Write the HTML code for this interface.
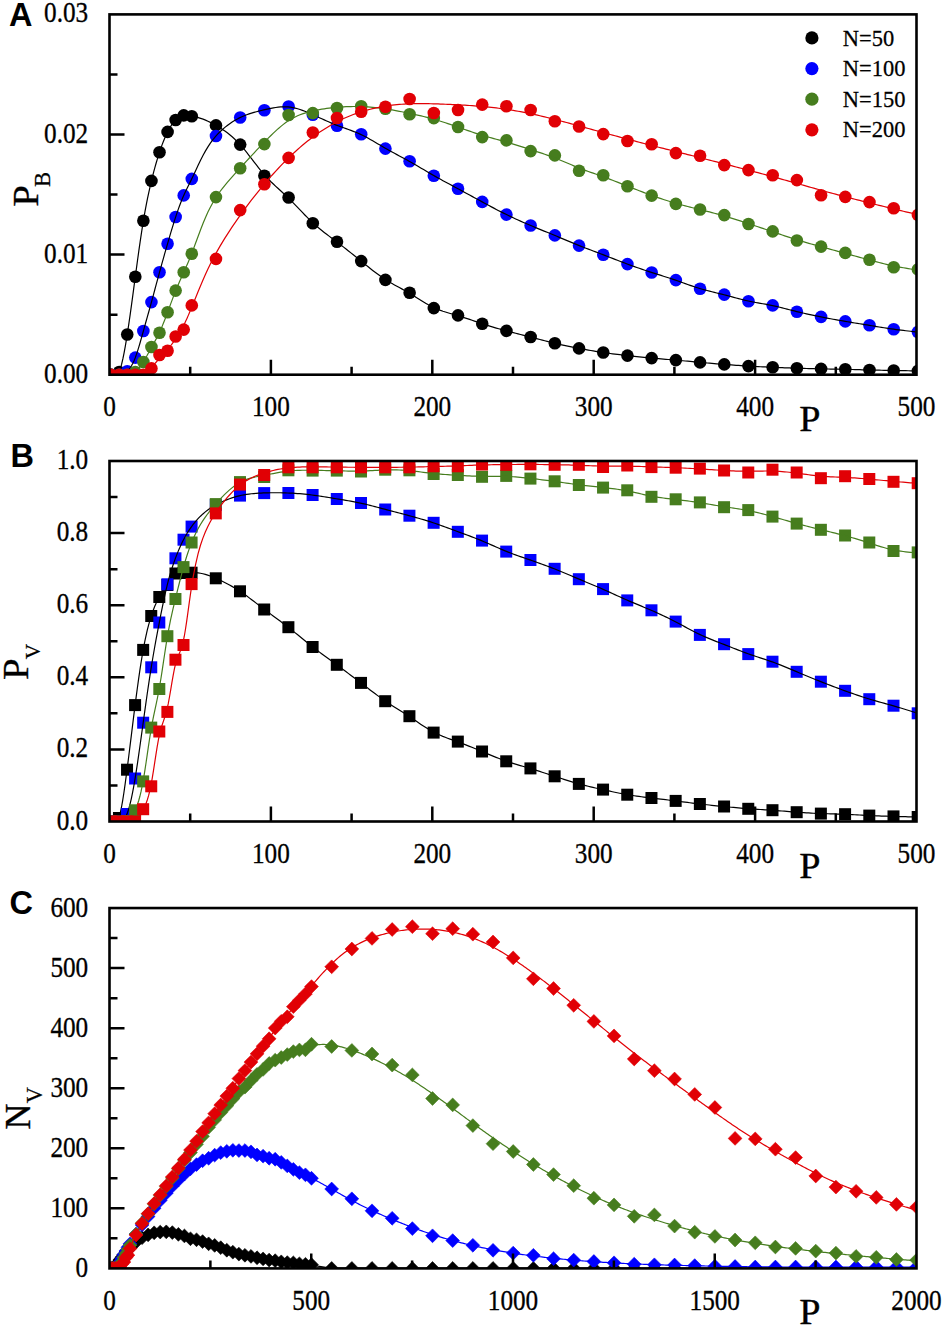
<!DOCTYPE html>
<html><head><meta charset="utf-8"><style>
html,body{margin:0;padding:0;background:#fff;overflow:hidden;}
svg{display:block;}
.t{font-family:"Liberation Serif",serif;font-size:26px;fill:#000;stroke:#000;stroke-width:0.3px;}
.ax{font-family:"Liberation Serif",serif;font-size:36px;fill:#000;stroke:#000;stroke-width:0.35px;}
.sub{font-family:"Liberation Serif",serif;font-size:22.5px;fill:#000;stroke:#000;stroke-width:0.25px;}
.lg{font-family:"Liberation Serif",serif;font-size:22.5px;fill:#000;stroke:#000;stroke-width:0.25px;}
.pl{font-family:"Liberation Sans",sans-serif;font-size:32.5px;font-weight:bold;fill:#000;}
</style></head><body>
<svg width="945" height="1328" viewBox="0 0 945 1328">
<defs>
<clipPath id="cA"><rect x="109.5" y="14.4" width="807" height="360.3"/></clipPath>
<clipPath id="cB"><rect x="109.5" y="461.0" width="807" height="360.5"/></clipPath>
<clipPath id="cC"><rect x="109.5" y="908.05" width="807" height="360.35"/></clipPath>
</defs>
<rect width="945" height="1328" fill="#fff"/>
<g clip-path="url(#cA)">
<circle cx="111.1" cy="374.7" r="6.3" fill="#000000"/>
<circle cx="119.17" cy="372" r="6.3" fill="#000000"/>
<circle cx="127.24" cy="334.5" r="6.3" fill="#000000"/>
<circle cx="135.3" cy="276.7" r="6.3" fill="#000000"/>
<circle cx="143.37" cy="220.8" r="6.3" fill="#000000"/>
<circle cx="151.44" cy="180.9" r="6.3" fill="#000000"/>
<circle cx="159.51" cy="152.2" r="6.3" fill="#000000"/>
<circle cx="167.58" cy="131.9" r="6.3" fill="#000000"/>
<circle cx="175.64" cy="120" r="6.3" fill="#000000"/>
<circle cx="183.71" cy="115.4" r="6.3" fill="#000000"/>
<circle cx="191.78" cy="116.2" r="6.3" fill="#000000"/>
<circle cx="215.98" cy="125.4" r="6.3" fill="#000000"/>
<circle cx="240.19" cy="144.6" r="6.3" fill="#000000"/>
<circle cx="264.39" cy="175.7" r="6.3" fill="#000000"/>
<circle cx="288.6" cy="197.5" r="6.3" fill="#000000"/>
<circle cx="312.8" cy="223.3" r="6.3" fill="#000000"/>
<circle cx="337" cy="241.8" r="6.3" fill="#000000"/>
<circle cx="361.21" cy="261.1" r="6.3" fill="#000000"/>
<circle cx="385.41" cy="279.9" r="6.3" fill="#000000"/>
<circle cx="409.62" cy="292.8" r="6.3" fill="#000000"/>
<circle cx="433.82" cy="308.1" r="6.3" fill="#000000"/>
<circle cx="458.02" cy="315.4" r="6.3" fill="#000000"/>
<circle cx="482.23" cy="323.8" r="6.3" fill="#000000"/>
<circle cx="506.43" cy="330.9" r="6.3" fill="#000000"/>
<circle cx="530.64" cy="337" r="6.3" fill="#000000"/>
<circle cx="554.84" cy="343.3" r="6.3" fill="#000000"/>
<circle cx="579.04" cy="348.4" r="6.3" fill="#000000"/>
<circle cx="603.25" cy="352.5" r="6.3" fill="#000000"/>
<circle cx="627.45" cy="355.6" r="6.3" fill="#000000"/>
<circle cx="651.66" cy="358.1" r="6.3" fill="#000000"/>
<circle cx="675.86" cy="360.1" r="6.3" fill="#000000"/>
<circle cx="700.06" cy="362.4" r="6.3" fill="#000000"/>
<circle cx="724.27" cy="364.4" r="6.3" fill="#000000"/>
<circle cx="748.47" cy="366.1" r="6.3" fill="#000000"/>
<circle cx="772.68" cy="367.3" r="6.3" fill="#000000"/>
<circle cx="796.88" cy="368.2" r="6.3" fill="#000000"/>
<circle cx="821.08" cy="368.9" r="6.3" fill="#000000"/>
<circle cx="845.29" cy="369.3" r="6.3" fill="#000000"/>
<circle cx="869.49" cy="370" r="6.3" fill="#000000"/>
<circle cx="893.7" cy="370.5" r="6.3" fill="#000000"/>
<circle cx="917.9" cy="370.9" r="6.3" fill="#000000"/>
<polyline points="119.17,371.89 120.4,368.54 121.63,364.19 122.86,358.95 124.09,352.91 125.32,346.17 126.55,338.82 127.78,330.96 129.01,322.68 130.24,314.06 131.48,305.17 132.71,296.1 133.94,286.93 135.17,277.73 136.4,268.58 137.63,259.54 138.86,250.69 140.09,242.09 141.32,233.8 142.55,225.88 143.78,218.4 145.01,211.39 146.24,204.81 147.47,198.63 148.71,192.79 149.94,187.27 151.17,182.02 152.4,177.01 153.63,172.22 154.86,167.64 156.09,163.28 157.32,159.12 158.55,155.15 159.78,151.37 161.01,147.78 162.24,144.38 163.47,141.17 164.7,138.16 165.94,135.34 167.17,132.73 168.4,130.32 169.63,128.11 170.86,126.09 172.09,124.27 173.32,122.62 174.55,121.16 175.78,119.86 177.01,118.73 178.24,117.77 179.47,116.97 180.7,116.33 181.93,115.84 183.17,115.51 184.4,115.33 185.63,115.28 186.86,115.34 188.09,115.49 189.32,115.69 190.55,115.93 191.78,116.18 193.39,116.51 195.82,117.03 198.24,117.63 200.66,118.33 203.09,119.16 205.51,120.12 207.93,121.19 210.36,122.36 212.78,123.62 215.2,124.95 217.62,126.35 220.05,127.83 222.47,129.39 224.89,131.06 227.32,132.84 229.74,134.74 232.16,136.78 234.59,138.97 237.01,141.32 239.43,143.84 241.86,146.55 244.28,149.42 246.7,152.42 249.12,155.51 251.55,158.65 253.97,161.81 256.39,164.96 258.82,168.05 261.24,171.06 263.66,173.94 266.09,176.67 268.51,179.25 270.93,181.7 273.36,184.05 275.78,186.32 278.2,188.55 280.63,190.76 283.05,192.96 285.47,195.2 287.89,197.5 290.32,199.87 292.74,202.31 295.16,204.81 297.59,207.35 300.01,209.9 302.43,212.44 304.86,214.96 307.28,217.44 309.7,219.85 312.13,222.18 314.55,224.4 316.97,226.52 319.39,228.56 321.82,230.53 324.24,232.43 326.66,234.29 329.09,236.12 331.51,237.93 333.93,239.73 336.36,241.55 338.78,243.38 341.2,245.24 343.63,247.12 346.05,249.02 348.47,250.93 350.89,252.86 353.32,254.81 355.74,256.76 358.16,258.72 360.59,260.69 363.01,262.66 365.43,264.63 367.86,266.58 370.28,268.52 372.7,270.42 375.13,272.28 377.55,274.1 379.97,275.86 382.4,277.55 384.82,279.17 387.24,280.71 389.66,282.17 392.09,283.57 394.51,284.93 396.93,286.26 399.36,287.57 401.78,288.88 404.2,290.2 406.63,291.55 409.05,292.94 411.47,294.39 413.9,295.88 416.32,297.4 418.74,298.93 421.16,300.46 423.59,301.96 426.01,303.42 428.43,304.81 430.86,306.13 433.28,307.36 435.7,308.47 438.13,309.48 440.55,310.4 442.97,311.24 445.4,312.02 447.82,312.76 450.24,313.46 452.67,314.15 455.09,314.84 457.51,315.55 459.93,316.28 462.36,317.04 464.78,317.82 467.2,318.63 469.63,319.44 472.05,320.27 474.47,321.1 476.9,321.93 479.32,322.75 481.74,323.56 484.17,324.35 486.59,325.12 489.01,325.88 491.43,326.62 493.86,327.35 496.28,328.06 498.7,328.75 501.13,329.43 503.55,330.1 505.97,330.76 508.4,331.4 510.82,332.03 513.24,332.66 515.67,333.28 518.09,333.89 520.51,334.5 522.93,335.11 525.36,335.72 527.78,336.33 530.2,336.95 532.63,337.57 535.05,338.2 537.47,338.84 539.9,339.47 542.32,340.1 544.74,340.73 547.17,341.35 549.59,341.97 552.01,342.57 554.44,343.16 556.86,343.74 559.28,344.3 561.7,344.85 564.13,345.38 566.55,345.91 568.97,346.41 571.4,346.91 573.82,347.4 576.24,347.87 578.67,348.34 581.09,348.79 583.51,349.24 585.94,349.67 588.36,350.1 590.78,350.52 593.2,350.92 595.63,351.32 598.05,351.7 600.47,352.08 602.9,352.44 605.32,352.79 607.74,353.13 610.17,353.47 612.59,353.79 615.01,354.11 617.44,354.41 619.86,354.71 622.28,355.01 624.71,355.29 627.13,355.57 629.55,355.85 631.97,356.12 634.4,356.38 636.82,356.64 639.24,356.89 641.67,357.13 644.09,357.37 646.51,357.61 648.94,357.83 651.36,358.05 653.78,358.27 656.21,358.48 658.63,358.68 661.05,358.89 663.47,359.09 665.9,359.29 668.32,359.49 670.74,359.69 673.17,359.9 675.59,360.11 678.01,360.32 680.44,360.54 682.86,360.77 685.28,361 687.71,361.22 690.13,361.45 692.55,361.68 694.97,361.91 697.4,362.14 699.82,362.36 702.24,362.58 704.67,362.8 707.09,363.01 709.51,363.21 711.94,363.42 714.36,363.62 716.78,363.82 719.21,364.01 721.63,364.2 724.05,364.39 726.48,364.58 728.9,364.76 731.32,364.94 733.74,365.11 736.17,365.29 738.59,365.46 741.01,365.62 743.44,365.78 745.86,365.93 748.28,366.08 750.71,366.22 753.13,366.36 755.55,366.49 757.98,366.62 760.4,366.74 762.82,366.86 765.24,366.97 767.67,367.08 770.09,367.19 772.51,367.3 774.94,367.4 777.36,367.5 779.78,367.59 782.21,367.69 784.63,367.78 787.05,367.87 789.48,367.95 791.9,368.04 794.32,368.12 796.75,368.2 799.17,368.28 801.59,368.36 804.01,368.43 806.44,368.51 808.86,368.58 811.28,368.64 813.71,368.71 816.13,368.77 818.55,368.83 820.98,368.88 823.4,368.93 825.82,368.97 828.25,369.02 830.67,369.06 833.09,369.1 835.51,369.14 837.94,369.18 840.36,369.23 842.78,369.28 845.21,369.33 847.63,369.38 850.05,369.44 852.48,369.51 854.9,369.58 857.32,369.64 859.75,369.71 862.17,369.78 864.59,369.85 867.01,369.92 869.44,369.98 871.86,370.04 874.28,370.1 876.71,370.16 879.13,370.21 881.55,370.27 883.98,370.32 886.4,370.36 888.82,370.41 891.25,370.46 893.67,370.5 896.09,370.54 898.52,370.59 900.94,370.63 903.36,370.67 905.78,370.71 908.21,370.75 910.63,370.79 913.05,370.83 915.48,370.86 917.9,370.9" fill="none" stroke="#000" stroke-width="1.2"/>
<circle cx="111.1" cy="374.7" r="6.3" fill="#0000ff"/>
<circle cx="119.17" cy="374.7" r="6.3" fill="#0000ff"/>
<circle cx="127.24" cy="371.3" r="6.3" fill="#0000ff"/>
<circle cx="135.3" cy="357.6" r="6.3" fill="#0000ff"/>
<circle cx="143.37" cy="331" r="6.3" fill="#0000ff"/>
<circle cx="151.44" cy="302.1" r="6.3" fill="#0000ff"/>
<circle cx="159.51" cy="272.3" r="6.3" fill="#0000ff"/>
<circle cx="167.58" cy="243.7" r="6.3" fill="#0000ff"/>
<circle cx="175.64" cy="217" r="6.3" fill="#0000ff"/>
<circle cx="183.71" cy="195.4" r="6.3" fill="#0000ff"/>
<circle cx="191.78" cy="178.9" r="6.3" fill="#0000ff"/>
<circle cx="215.98" cy="136" r="6.3" fill="#0000ff"/>
<circle cx="240.19" cy="117.5" r="6.3" fill="#0000ff"/>
<circle cx="264.39" cy="110.2" r="6.3" fill="#0000ff"/>
<circle cx="288.6" cy="106.5" r="6.3" fill="#0000ff"/>
<circle cx="312.8" cy="114.8" r="6.3" fill="#0000ff"/>
<circle cx="337" cy="125.7" r="6.3" fill="#0000ff"/>
<circle cx="361.21" cy="134.2" r="6.3" fill="#0000ff"/>
<circle cx="385.41" cy="148.6" r="6.3" fill="#0000ff"/>
<circle cx="409.62" cy="161.3" r="6.3" fill="#0000ff"/>
<circle cx="433.82" cy="175.7" r="6.3" fill="#0000ff"/>
<circle cx="458.02" cy="188.7" r="6.3" fill="#0000ff"/>
<circle cx="482.23" cy="201.9" r="6.3" fill="#0000ff"/>
<circle cx="506.43" cy="214.6" r="6.3" fill="#0000ff"/>
<circle cx="530.64" cy="225.5" r="6.3" fill="#0000ff"/>
<circle cx="554.84" cy="235.4" r="6.3" fill="#0000ff"/>
<circle cx="579.04" cy="245.6" r="6.3" fill="#0000ff"/>
<circle cx="603.25" cy="254.7" r="6.3" fill="#0000ff"/>
<circle cx="627.45" cy="264.1" r="6.3" fill="#0000ff"/>
<circle cx="651.66" cy="272.5" r="6.3" fill="#0000ff"/>
<circle cx="675.86" cy="280.1" r="6.3" fill="#0000ff"/>
<circle cx="700.06" cy="288.8" r="6.3" fill="#0000ff"/>
<circle cx="724.27" cy="294.6" r="6.3" fill="#0000ff"/>
<circle cx="748.47" cy="301.3" r="6.3" fill="#0000ff"/>
<circle cx="772.68" cy="305.4" r="6.3" fill="#0000ff"/>
<circle cx="796.88" cy="311.7" r="6.3" fill="#0000ff"/>
<circle cx="821.08" cy="316.9" r="6.3" fill="#0000ff"/>
<circle cx="845.29" cy="321.4" r="6.3" fill="#0000ff"/>
<circle cx="869.49" cy="325.3" r="6.3" fill="#0000ff"/>
<circle cx="893.7" cy="329.3" r="6.3" fill="#0000ff"/>
<circle cx="917.9" cy="332" r="6.3" fill="#0000ff"/>
<polyline points="119.17,374.71 120.4,374.55 121.63,374.31 122.86,373.95 124.09,373.44 125.32,372.77 126.55,371.88 127.78,370.77 129.01,369.4 130.24,367.75 131.48,365.79 132.71,363.52 133.94,360.9 135.17,357.91 136.4,354.55 137.63,350.85 138.86,346.88 140.09,342.71 141.32,338.39 142.55,333.98 143.78,329.57 145.01,325.16 146.24,320.77 147.47,316.38 148.71,311.97 149.94,307.55 151.17,303.08 152.4,298.58 153.63,294.04 154.86,289.48 156.09,284.92 157.32,280.35 158.55,275.82 159.78,271.31 161.01,266.85 162.24,262.43 163.47,258.06 164.7,253.71 165.94,249.4 167.17,245.11 168.4,240.85 169.63,236.63 170.86,232.45 172.09,228.35 173.32,224.32 174.55,220.4 175.78,216.59 177.01,212.91 178.24,209.36 179.47,205.96 180.7,202.71 181.93,199.62 183.17,196.68 184.4,193.91 185.63,191.28 186.86,188.76 188.09,186.29 189.32,183.84 190.55,181.37 191.78,178.86 193.39,175.48 195.82,170.28 198.24,165.1 200.66,160.07 203.09,155.32 205.51,150.91 207.93,146.87 210.36,143.21 212.78,139.9 215.2,136.91 217.62,134.2 220.05,131.73 222.47,129.48 224.89,127.4 227.32,125.49 229.74,123.71 232.16,122.08 234.59,120.56 237.01,119.17 239.43,117.9 241.86,116.75 244.28,115.7 246.7,114.76 249.12,113.9 251.55,113.12 253.97,112.4 256.39,111.73 258.82,111.1 261.24,110.51 263.66,109.94 266.09,109.38 268.51,108.85 270.93,108.34 273.36,107.88 275.78,107.49 278.2,107.17 280.63,106.93 283.05,106.81 285.47,106.8 287.89,106.92 290.32,107.19 292.74,107.6 295.16,108.14 297.59,108.79 300.01,109.55 302.43,110.39 304.86,111.31 307.28,112.29 309.7,113.32 312.13,114.38 314.55,115.47 316.97,116.57 319.39,117.68 321.82,118.79 324.24,119.89 326.66,120.98 329.09,122.06 331.51,123.1 333.93,124.12 336.36,125.1 338.78,126.03 341.2,126.93 343.63,127.8 346.05,128.66 348.47,129.53 350.89,130.41 353.32,131.32 355.74,132.27 358.16,133.28 360.59,134.36 363.01,135.52 365.43,136.75 367.86,138.05 370.28,139.4 372.7,140.79 375.13,142.21 377.55,143.65 379.97,145.09 382.4,146.52 384.82,147.94 387.24,149.32 389.66,150.68 392.09,152.01 394.51,153.32 396.93,154.62 399.36,155.92 401.78,157.22 404.2,158.52 406.63,159.84 409.05,161.18 411.47,162.54 413.9,163.92 416.32,165.33 418.74,166.74 421.16,168.17 423.59,169.6 426.01,171.03 428.43,172.45 430.86,173.86 433.28,175.26 435.7,176.64 438.13,177.99 440.55,179.33 442.97,180.66 445.4,181.98 447.82,183.29 450.24,184.59 452.67,185.89 455.09,187.19 457.51,188.49 459.93,189.79 462.36,191.1 464.78,192.42 467.2,193.74 469.63,195.06 472.05,196.38 474.47,197.7 476.9,199.02 479.32,200.34 481.74,201.65 484.17,202.96 486.59,204.27 489.01,205.57 491.43,206.86 493.86,208.14 496.28,209.41 498.7,210.67 501.13,211.9 503.55,213.12 505.97,214.32 508.4,215.5 510.82,216.66 513.24,217.8 515.67,218.92 518.09,220.02 520.51,221.11 522.93,222.18 525.36,223.23 527.78,224.27 530.2,225.3 532.63,226.32 535.05,227.34 537.47,228.34 539.9,229.34 542.32,230.33 544.74,231.32 547.17,232.31 549.59,233.31 552.01,234.3 554.44,235.31 556.86,236.31 559.28,237.33 561.7,238.35 564.13,239.36 566.55,240.38 568.97,241.4 571.4,242.4 573.82,243.4 576.24,244.39 578.67,245.37 581.09,246.33 583.51,247.28 585.94,248.21 588.36,249.14 590.78,250.06 593.2,250.98 595.63,251.89 598.05,252.8 600.47,253.72 602.9,254.64 605.32,255.57 607.74,256.5 610.17,257.44 612.59,258.38 615.01,259.32 617.44,260.26 619.86,261.19 622.28,262.12 624.71,263.03 627.13,263.94 629.55,264.83 631.97,265.72 634.4,266.59 636.82,267.45 639.24,268.29 641.67,269.13 644.09,269.95 646.51,270.76 648.94,271.56 651.36,272.35 653.78,273.13 656.21,273.9 658.63,274.67 661.05,275.44 663.47,276.21 665.9,276.98 668.32,277.76 670.74,278.55 673.17,279.35 675.59,280.17 678.01,281.01 680.44,281.87 682.86,282.73 685.28,283.6 687.71,284.46 690.13,285.32 692.55,286.15 694.97,286.97 697.4,287.75 699.82,288.51 702.24,289.22 704.67,289.89 707.09,290.54 709.51,291.17 711.94,291.77 714.36,292.37 716.78,292.96 719.21,293.55 721.63,294.15 724.05,294.76 726.48,295.39 728.9,296.04 731.32,296.69 733.74,297.35 736.17,298 738.59,298.65 741.01,299.28 743.44,299.88 745.86,300.47 748.28,301.02 750.71,301.53 753.13,302.01 755.55,302.47 757.98,302.91 760.4,303.34 762.82,303.76 765.24,304.2 767.67,304.64 770.09,305.11 772.51,305.6 774.94,306.12 777.36,306.67 779.78,307.25 782.21,307.85 784.63,308.46 787.05,309.08 789.48,309.71 791.9,310.33 794.32,310.95 796.75,311.56 799.17,312.15 801.59,312.72 804.01,313.29 806.44,313.84 808.86,314.37 811.28,314.9 813.71,315.41 816.13,315.91 818.55,316.41 820.98,316.89 823.4,317.37 825.82,317.84 828.25,318.31 830.67,318.77 833.09,319.22 835.51,319.66 837.94,320.1 840.36,320.53 842.78,320.95 845.21,321.37 847.63,321.78 850.05,322.18 852.48,322.58 854.9,322.98 857.32,323.38 859.75,323.77 862.17,324.17 864.59,324.56 867.01,324.96 869.44,325.36 871.86,325.76 874.28,326.17 876.71,326.57 879.13,326.97 881.55,327.37 883.98,327.76 886.4,328.14 888.82,328.51 891.25,328.87 893.67,329.21 896.09,329.54 898.52,329.86 900.94,330.16 903.36,330.45 905.78,330.73 908.21,331 910.63,331.27 913.05,331.53 915.48,331.78 917.9,332.04" fill="none" stroke="#000" stroke-width="1.2"/>
<circle cx="111.1" cy="374.7" r="6.3" fill="#467d1e"/>
<circle cx="119.17" cy="374.7" r="6.3" fill="#467d1e"/>
<circle cx="127.24" cy="374.7" r="6.3" fill="#467d1e"/>
<circle cx="135.3" cy="372" r="6.3" fill="#467d1e"/>
<circle cx="143.37" cy="362" r="6.3" fill="#467d1e"/>
<circle cx="151.44" cy="347" r="6.3" fill="#467d1e"/>
<circle cx="159.51" cy="332.8" r="6.3" fill="#467d1e"/>
<circle cx="167.58" cy="312.3" r="6.3" fill="#467d1e"/>
<circle cx="175.64" cy="290.6" r="6.3" fill="#467d1e"/>
<circle cx="183.71" cy="272.3" r="6.3" fill="#467d1e"/>
<circle cx="191.78" cy="253.8" r="6.3" fill="#467d1e"/>
<circle cx="215.98" cy="197.1" r="6.3" fill="#467d1e"/>
<circle cx="240.19" cy="168.2" r="6.3" fill="#467d1e"/>
<circle cx="264.39" cy="144.1" r="6.3" fill="#467d1e"/>
<circle cx="288.6" cy="115" r="6.3" fill="#467d1e"/>
<circle cx="312.8" cy="113.1" r="6.3" fill="#467d1e"/>
<circle cx="337" cy="108" r="6.3" fill="#467d1e"/>
<circle cx="361.21" cy="106.2" r="6.3" fill="#467d1e"/>
<circle cx="385.41" cy="108.7" r="6.3" fill="#467d1e"/>
<circle cx="409.62" cy="114.3" r="6.3" fill="#467d1e"/>
<circle cx="433.82" cy="118.1" r="6.3" fill="#467d1e"/>
<circle cx="458.02" cy="127" r="6.3" fill="#467d1e"/>
<circle cx="482.23" cy="137.1" r="6.3" fill="#467d1e"/>
<circle cx="506.43" cy="140.4" r="6.3" fill="#467d1e"/>
<circle cx="530.64" cy="151.1" r="6.3" fill="#467d1e"/>
<circle cx="554.84" cy="155.4" r="6.3" fill="#467d1e"/>
<circle cx="579.04" cy="170.7" r="6.3" fill="#467d1e"/>
<circle cx="603.25" cy="175.2" r="6.3" fill="#467d1e"/>
<circle cx="627.45" cy="186.2" r="6.3" fill="#467d1e"/>
<circle cx="651.66" cy="195.6" r="6.3" fill="#467d1e"/>
<circle cx="675.86" cy="203.9" r="6.3" fill="#467d1e"/>
<circle cx="700.06" cy="209.5" r="6.3" fill="#467d1e"/>
<circle cx="724.27" cy="215.1" r="6.3" fill="#467d1e"/>
<circle cx="748.47" cy="224" r="6.3" fill="#467d1e"/>
<circle cx="772.68" cy="231.4" r="6.3" fill="#467d1e"/>
<circle cx="796.88" cy="240.5" r="6.3" fill="#467d1e"/>
<circle cx="821.08" cy="246.6" r="6.3" fill="#467d1e"/>
<circle cx="845.29" cy="252.9" r="6.3" fill="#467d1e"/>
<circle cx="869.49" cy="259.7" r="6.3" fill="#467d1e"/>
<circle cx="893.7" cy="267.2" r="6.3" fill="#467d1e"/>
<circle cx="917.9" cy="269.4" r="6.3" fill="#467d1e"/>
<polyline points="119.17,374.78 120.4,374.82 121.63,374.86 122.86,374.9 124.09,374.91 125.32,374.89 126.55,374.83 127.78,374.71 129.01,374.53 130.24,374.27 131.48,373.89 132.71,373.38 133.94,372.72 135.17,371.89 136.4,370.87 137.63,369.66 138.86,368.28 140.09,366.73 141.32,365.03 142.55,363.19 143.78,361.22 145.01,359.13 146.24,356.95 147.47,354.72 148.71,352.45 149.94,350.18 151.17,347.93 152.4,345.72 153.63,343.55 154.86,341.36 156.09,339.13 157.32,336.82 158.55,334.39 159.78,331.81 161.01,329.05 162.24,326.14 163.47,323.1 164.7,319.95 165.94,316.71 167.17,313.42 168.4,310.09 169.63,306.74 170.86,303.4 172.09,300.09 173.32,296.83 174.55,293.65 175.78,290.55 177.01,287.56 178.24,284.66 179.47,281.83 180.7,279.06 181.93,276.31 183.17,273.58 184.4,270.85 185.63,268.11 186.86,265.32 188.09,262.47 189.32,259.54 190.55,256.52 191.78,253.4 193.39,249.15 195.82,242.56 198.24,235.92 200.66,229.44 203.09,223.24 205.51,217.44 207.93,212.09 210.36,207.19 212.78,202.73 215.2,198.66 217.62,194.94 220.05,191.51 222.47,188.3 224.89,185.26 227.32,182.35 229.74,179.53 232.16,176.79 234.59,174.09 237.01,171.43 239.43,168.78 241.86,166.15 244.28,163.51 246.7,160.88 249.12,158.26 251.55,155.64 253.97,153.04 256.39,150.45 258.82,147.88 261.24,145.33 263.66,142.8 266.09,140.31 268.51,137.85 270.93,135.45 273.36,133.1 275.78,130.84 278.2,128.67 280.63,126.59 283.05,124.64 285.47,122.81 287.89,121.12 290.32,119.58 292.74,118.19 295.16,116.94 297.59,115.82 300.01,114.81 302.43,113.91 304.86,113.1 307.28,112.37 309.7,111.71 312.13,111.12 314.55,110.57 316.97,110.06 319.39,109.6 321.82,109.18 324.24,108.8 326.66,108.45 329.09,108.13 331.51,107.85 333.93,107.6 336.36,107.37 338.78,107.17 341.2,106.99 343.63,106.84 346.05,106.72 348.47,106.62 350.89,106.56 353.32,106.52 355.74,106.51 358.16,106.53 360.59,106.59 363.01,106.68 365.43,106.79 367.86,106.95 370.28,107.13 372.7,107.34 375.13,107.57 377.55,107.84 379.97,108.13 382.4,108.45 384.82,108.79 387.24,109.16 389.66,109.55 392.09,109.96 394.51,110.39 396.93,110.83 399.36,111.3 401.78,111.77 404.2,112.26 406.63,112.76 409.05,113.27 411.47,113.78 413.9,114.3 416.32,114.84 418.74,115.39 421.16,115.95 423.59,116.53 426.01,117.13 428.43,117.75 430.86,118.39 433.28,119.06 435.7,119.76 438.13,120.48 440.55,121.23 442.97,122 445.4,122.79 447.82,123.6 450.24,124.42 452.67,125.25 455.09,126.09 457.51,126.94 459.93,127.79 462.36,128.64 464.78,129.49 467.2,130.34 469.63,131.17 472.05,132 474.47,132.81 476.9,133.61 479.32,134.38 481.74,135.13 484.17,135.86 486.59,136.56 489.01,137.25 491.43,137.92 493.86,138.58 496.28,139.24 498.7,139.9 501.13,140.56 503.55,141.23 505.97,141.92 508.4,142.62 510.82,143.35 513.24,144.08 515.67,144.84 518.09,145.6 520.51,146.37 522.93,147.15 525.36,147.93 527.78,148.71 530.2,149.49 532.63,150.27 535.05,151.05 537.47,151.84 539.9,152.63 542.32,153.43 544.74,154.25 547.17,155.09 549.59,155.95 552.01,156.84 554.44,157.75 556.86,158.71 559.28,159.69 561.7,160.69 564.13,161.72 566.55,162.75 568.97,163.78 571.4,164.81 573.82,165.83 576.24,166.84 578.67,167.81 581.09,168.76 583.51,169.68 585.94,170.58 588.36,171.46 590.78,172.33 593.2,173.19 595.63,174.05 598.05,174.9 600.47,175.76 602.9,176.64 605.32,177.53 607.74,178.43 610.17,179.35 612.59,180.28 615.01,181.21 617.44,182.16 619.86,183.11 622.28,184.07 624.71,185.02 627.13,185.98 629.55,186.94 631.97,187.9 634.4,188.85 636.82,189.79 639.24,190.73 641.67,191.66 644.09,192.58 646.51,193.49 648.94,194.39 651.36,195.28 653.78,196.14 656.21,197 658.63,197.83 661.05,198.65 663.47,199.46 665.9,200.24 668.32,201.01 670.74,201.76 673.17,202.48 675.59,203.19 678.01,203.88 680.44,204.55 682.86,205.21 685.28,205.85 687.71,206.48 690.13,207.1 692.55,207.71 694.97,208.31 697.4,208.92 699.82,209.52 702.24,210.12 704.67,210.72 707.09,211.33 709.51,211.95 711.94,212.57 714.36,213.21 716.78,213.85 719.21,214.51 721.63,215.19 724.05,215.88 726.48,216.59 728.9,217.31 731.32,218.06 733.74,218.81 736.17,219.58 738.59,220.36 741.01,221.15 743.44,221.95 745.86,222.75 748.28,223.56 750.71,224.37 753.13,225.18 755.55,225.99 757.98,226.8 760.4,227.62 762.82,228.44 765.24,229.26 767.67,230.08 770.09,230.9 772.51,231.72 774.94,232.55 777.36,233.37 779.78,234.19 782.21,235.01 784.63,235.82 787.05,236.62 789.48,237.42 791.9,238.2 794.32,238.98 796.75,239.74 799.17,240.48 801.59,241.21 804.01,241.93 806.44,242.64 808.86,243.34 811.28,244.02 813.71,244.7 816.13,245.38 818.55,246.05 820.98,246.71 823.4,247.37 825.82,248.03 828.25,248.69 830.67,249.35 833.09,250.01 835.51,250.66 837.94,251.32 840.36,251.98 842.78,252.65 845.21,253.31 847.63,253.98 850.05,254.65 852.48,255.32 854.9,256 857.32,256.67 859.75,257.34 862.17,258.01 864.59,258.67 867.01,259.34 869.44,259.99 871.86,260.64 874.28,261.28 876.71,261.92 879.13,262.54 881.55,263.14 883.98,263.74 886.4,264.31 888.82,264.87 891.25,265.4 893.67,265.91 896.09,266.4 898.52,266.87 900.94,267.32 903.36,267.75 905.78,268.17 908.21,268.58 910.63,268.97 913.05,269.36 915.48,269.74 917.9,270.12" fill="none" stroke="#467d1e" stroke-width="1.2"/>
<circle cx="111.1" cy="374.7" r="6.3" fill="#e10005"/>
<circle cx="119.17" cy="374.7" r="6.3" fill="#e10005"/>
<circle cx="127.24" cy="374.7" r="6.3" fill="#e10005"/>
<circle cx="135.3" cy="374.7" r="6.3" fill="#e10005"/>
<circle cx="143.37" cy="374.7" r="6.3" fill="#e10005"/>
<circle cx="151.44" cy="368.4" r="6.3" fill="#e10005"/>
<circle cx="159.51" cy="355" r="6.3" fill="#e10005"/>
<circle cx="167.58" cy="350.7" r="6.3" fill="#e10005"/>
<circle cx="175.64" cy="336.5" r="6.3" fill="#e10005"/>
<circle cx="183.71" cy="329.6" r="6.3" fill="#e10005"/>
<circle cx="191.78" cy="305.4" r="6.3" fill="#e10005"/>
<circle cx="215.98" cy="258.9" r="6.3" fill="#e10005"/>
<circle cx="240.19" cy="210.1" r="6.3" fill="#e10005"/>
<circle cx="264.39" cy="184.3" r="6.3" fill="#e10005"/>
<circle cx="288.6" cy="157.9" r="6.3" fill="#e10005"/>
<circle cx="312.8" cy="132.5" r="6.3" fill="#e10005"/>
<circle cx="337" cy="118" r="6.3" fill="#e10005"/>
<circle cx="361.21" cy="111.8" r="6.3" fill="#e10005"/>
<circle cx="385.41" cy="106.7" r="6.3" fill="#e10005"/>
<circle cx="409.62" cy="99" r="6.3" fill="#e10005"/>
<circle cx="433.82" cy="113" r="6.3" fill="#e10005"/>
<circle cx="458.02" cy="110" r="6.3" fill="#e10005"/>
<circle cx="482.23" cy="104.6" r="6.3" fill="#e10005"/>
<circle cx="506.43" cy="106.2" r="6.3" fill="#e10005"/>
<circle cx="530.64" cy="110" r="6.3" fill="#e10005"/>
<circle cx="554.84" cy="121.2" r="6.3" fill="#e10005"/>
<circle cx="579.04" cy="126.5" r="6.3" fill="#e10005"/>
<circle cx="603.25" cy="134.1" r="6.3" fill="#e10005"/>
<circle cx="627.45" cy="141" r="6.3" fill="#e10005"/>
<circle cx="651.66" cy="144.3" r="6.3" fill="#e10005"/>
<circle cx="675.86" cy="153.1" r="6.3" fill="#e10005"/>
<circle cx="700.06" cy="155.7" r="6.3" fill="#e10005"/>
<circle cx="724.27" cy="165.1" r="6.3" fill="#e10005"/>
<circle cx="748.47" cy="170.1" r="6.3" fill="#e10005"/>
<circle cx="772.68" cy="175.3" r="6.3" fill="#e10005"/>
<circle cx="796.88" cy="180.1" r="6.3" fill="#e10005"/>
<circle cx="821.08" cy="195.3" r="6.3" fill="#e10005"/>
<circle cx="845.29" cy="196.9" r="6.3" fill="#e10005"/>
<circle cx="869.49" cy="202.1" r="6.3" fill="#e10005"/>
<circle cx="893.7" cy="208.2" r="6.3" fill="#e10005"/>
<circle cx="917.9" cy="214.9" r="6.3" fill="#e10005"/>
<polyline points="119.17,375.01 120.4,375.07 121.63,375.12 122.86,375.18 124.09,375.23 125.32,375.27 126.55,375.31 127.78,375.34 129.01,375.36 130.24,375.36 131.48,375.34 132.71,375.29 133.94,375.21 135.17,375.09 136.4,374.93 137.63,374.71 138.86,374.44 140.09,374.09 141.32,373.68 142.55,373.18 143.78,372.59 145.01,371.91 146.24,371.14 147.47,370.28 148.71,369.34 149.94,368.33 151.17,367.23 152.4,366.07 153.63,364.85 154.86,363.58 156.09,362.27 157.32,360.94 158.55,359.6 159.78,358.26 161.01,356.92 162.24,355.58 163.47,354.24 164.7,352.87 165.94,351.48 167.17,350.06 168.4,348.58 169.63,347.07 170.86,345.5 172.09,343.88 173.32,342.21 174.55,340.48 175.78,338.7 177.01,336.86 178.24,334.95 179.47,332.95 180.7,330.86 181.93,328.66 183.17,326.34 184.4,323.9 185.63,321.33 186.86,318.65 188.09,315.88 189.32,313.03 190.55,310.12 191.78,307.16 193.39,303.24 195.82,297.29 198.24,291.35 200.66,285.49 203.09,279.78 205.51,274.28 207.93,269.02 210.36,264.02 212.78,259.25 215.2,254.71 217.62,250.35 220.05,246.16 222.47,242.11 224.89,238.18 227.32,234.35 229.74,230.61 232.16,226.94 234.59,223.35 237.01,219.82 239.43,216.35 241.86,212.96 244.28,209.62 246.7,206.34 249.12,203.12 251.55,199.96 253.97,196.84 256.39,193.78 258.82,190.77 261.24,187.81 263.66,184.9 266.09,182.03 268.51,179.22 270.93,176.46 273.36,173.75 275.78,171.09 278.2,168.48 280.63,165.93 283.05,163.42 285.47,160.97 287.89,158.57 290.32,156.22 292.74,153.93 295.16,151.69 297.59,149.5 300.01,147.37 302.43,145.3 304.86,143.28 307.28,141.31 309.7,139.41 312.13,137.56 314.55,135.76 316.97,134.02 319.39,132.34 321.82,130.72 324.24,129.15 326.66,127.64 329.09,126.18 331.51,124.78 333.93,123.43 336.36,122.14 338.78,120.9 341.2,119.71 343.63,118.57 346.05,117.49 348.47,116.45 350.89,115.47 353.32,114.53 355.74,113.64 358.16,112.79 360.59,111.99 363.01,111.24 365.43,110.52 367.86,109.85 370.28,109.22 372.7,108.63 375.13,108.07 377.55,107.56 379.97,107.08 382.4,106.64 384.82,106.23 387.24,105.86 389.66,105.51 392.09,105.21 394.51,104.93 396.93,104.68 399.36,104.46 401.78,104.27 404.2,104.11 406.63,103.97 409.05,103.86 411.47,103.77 413.9,103.71 416.32,103.67 418.74,103.65 421.16,103.64 423.59,103.65 426.01,103.68 428.43,103.72 430.86,103.77 433.28,103.83 435.7,103.9 438.13,103.97 440.55,104.05 442.97,104.14 445.4,104.23 447.82,104.33 450.24,104.44 452.67,104.55 455.09,104.67 457.51,104.8 459.93,104.93 462.36,105.06 464.78,105.2 467.2,105.35 469.63,105.51 472.05,105.68 474.47,105.85 476.9,106.04 479.32,106.24 481.74,106.45 484.17,106.67 486.59,106.9 489.01,107.15 491.43,107.41 493.86,107.68 496.28,107.97 498.7,108.27 501.13,108.59 503.55,108.92 505.97,109.27 508.4,109.63 510.82,110.01 513.24,110.41 515.67,110.82 518.09,111.25 520.51,111.69 522.93,112.15 525.36,112.63 527.78,113.11 530.2,113.62 532.63,114.14 535.05,114.67 537.47,115.21 539.9,115.77 542.32,116.34 544.74,116.92 547.17,117.51 549.59,118.11 552.01,118.72 554.44,119.33 556.86,119.96 559.28,120.59 561.7,121.22 564.13,121.86 566.55,122.51 568.97,123.16 571.4,123.81 573.82,124.47 576.24,125.13 578.67,125.79 581.09,126.46 583.51,127.13 585.94,127.8 588.36,128.47 590.78,129.14 593.2,129.81 595.63,130.48 598.05,131.15 600.47,131.81 602.9,132.48 605.32,133.15 607.74,133.81 610.17,134.47 612.59,135.13 615.01,135.79 617.44,136.44 619.86,137.1 622.28,137.75 624.71,138.39 627.13,139.04 629.55,139.68 631.97,140.32 634.4,140.95 636.82,141.59 639.24,142.22 641.67,142.85 644.09,143.47 646.51,144.1 648.94,144.72 651.36,145.35 653.78,145.97 656.21,146.59 658.63,147.21 661.05,147.83 663.47,148.44 665.9,149.06 668.32,149.67 670.74,150.29 673.17,150.9 675.59,151.51 678.01,152.13 680.44,152.74 682.86,153.35 685.28,153.95 687.71,154.56 690.13,155.17 692.55,155.78 694.97,156.39 697.4,157.01 699.82,157.62 702.24,158.23 704.67,158.85 707.09,159.47 709.51,160.09 711.94,160.71 714.36,161.33 716.78,161.95 719.21,162.57 721.63,163.19 724.05,163.82 726.48,164.44 728.9,165.07 731.32,165.7 733.74,166.33 736.17,166.96 738.59,167.59 741.01,168.22 743.44,168.85 745.86,169.49 748.28,170.13 750.71,170.76 753.13,171.41 755.55,172.05 757.98,172.7 760.4,173.34 762.82,173.99 765.24,174.65 767.67,175.3 770.09,175.96 772.51,176.62 774.94,177.29 777.36,177.95 779.78,178.62 782.21,179.3 784.63,179.97 787.05,180.65 789.48,181.33 791.9,182.01 794.32,182.69 796.75,183.38 799.17,184.06 801.59,184.75 804.01,185.44 806.44,186.13 808.86,186.81 811.28,187.5 813.71,188.18 816.13,188.86 818.55,189.54 820.98,190.21 823.4,190.88 825.82,191.55 828.25,192.21 830.67,192.86 833.09,193.51 835.51,194.16 837.94,194.81 840.36,195.45 842.78,196.08 845.21,196.72 847.63,197.35 850.05,197.97 852.48,198.6 854.9,199.22 857.32,199.84 859.75,200.45 862.17,201.07 864.59,201.68 867.01,202.29 869.44,202.89 871.86,203.5 874.28,204.1 876.71,204.71 879.13,205.31 881.55,205.9 883.98,206.5 886.4,207.1 888.82,207.69 891.25,208.28 893.67,208.87 896.09,209.46 898.52,210.05 900.94,210.63 903.36,211.22 905.78,211.8 908.21,212.38 910.63,212.95 913.05,213.53 915.48,214.1 917.9,214.67" fill="none" stroke="#e10005" stroke-width="1.2"/>
</g>
<g clip-path="url(#cB)">
<rect x="104.9" y="815.5" width="12.0" height="12.0" fill="#000000"/>
<rect x="112.97" y="812" width="12.0" height="12.0" fill="#000000"/>
<rect x="121.04" y="763.7" width="12.0" height="12.0" fill="#000000"/>
<rect x="129.1" y="699.1" width="12.0" height="12.0" fill="#000000"/>
<rect x="137.17" y="643.9" width="12.0" height="12.0" fill="#000000"/>
<rect x="145.24" y="610" width="12.0" height="12.0" fill="#000000"/>
<rect x="153.31" y="591" width="12.0" height="12.0" fill="#000000"/>
<rect x="161.38" y="579" width="12.0" height="12.0" fill="#000000"/>
<rect x="169.44" y="567.5" width="12.0" height="12.0" fill="#000000"/>
<rect x="177.51" y="567" width="12.0" height="12.0" fill="#000000"/>
<rect x="185.58" y="566.7" width="12.0" height="12.0" fill="#000000"/>
<rect x="209.78" y="572.3" width="12.0" height="12.0" fill="#000000"/>
<rect x="233.99" y="585.3" width="12.0" height="12.0" fill="#000000"/>
<rect x="258.19" y="603.5" width="12.0" height="12.0" fill="#000000"/>
<rect x="282.4" y="621.2" width="12.0" height="12.0" fill="#000000"/>
<rect x="306.6" y="641" width="12.0" height="12.0" fill="#000000"/>
<rect x="330.8" y="658.8" width="12.0" height="12.0" fill="#000000"/>
<rect x="355.01" y="676.9" width="12.0" height="12.0" fill="#000000"/>
<rect x="379.21" y="695.2" width="12.0" height="12.0" fill="#000000"/>
<rect x="403.42" y="710.2" width="12.0" height="12.0" fill="#000000"/>
<rect x="427.62" y="726.6" width="12.0" height="12.0" fill="#000000"/>
<rect x="451.82" y="735.6" width="12.0" height="12.0" fill="#000000"/>
<rect x="476.03" y="745.5" width="12.0" height="12.0" fill="#000000"/>
<rect x="500.23" y="755.3" width="12.0" height="12.0" fill="#000000"/>
<rect x="524.44" y="762.4" width="12.0" height="12.0" fill="#000000"/>
<rect x="548.64" y="770.3" width="12.0" height="12.0" fill="#000000"/>
<rect x="572.84" y="777.9" width="12.0" height="12.0" fill="#000000"/>
<rect x="597.05" y="783.6" width="12.0" height="12.0" fill="#000000"/>
<rect x="621.25" y="788.7" width="12.0" height="12.0" fill="#000000"/>
<rect x="645.46" y="792" width="12.0" height="12.0" fill="#000000"/>
<rect x="669.66" y="794.9" width="12.0" height="12.0" fill="#000000"/>
<rect x="693.86" y="798" width="12.0" height="12.0" fill="#000000"/>
<rect x="718.07" y="800.5" width="12.0" height="12.0" fill="#000000"/>
<rect x="742.27" y="802.8" width="12.0" height="12.0" fill="#000000"/>
<rect x="766.48" y="804.2" width="12.0" height="12.0" fill="#000000"/>
<rect x="790.68" y="806.2" width="12.0" height="12.0" fill="#000000"/>
<rect x="814.88" y="807.6" width="12.0" height="12.0" fill="#000000"/>
<rect x="839.09" y="808.2" width="12.0" height="12.0" fill="#000000"/>
<rect x="863.29" y="809.6" width="12.0" height="12.0" fill="#000000"/>
<rect x="887.5" y="810.4" width="12.0" height="12.0" fill="#000000"/>
<rect x="911.7" y="811" width="12.0" height="12.0" fill="#000000"/>
<polyline points="118.97,817.8 120.2,813.28 121.43,807.48 122.66,800.56 123.89,792.72 125.12,784.14 126.35,775 127.58,765.49 128.81,755.73 130.04,745.82 131.28,735.83 132.51,725.84 133.74,715.93 134.97,706.18 136.2,696.67 137.43,687.46 138.66,678.6 139.89,670.14 141.12,662.13 142.35,654.64 143.58,647.7 144.81,641.34 146.04,635.53 147.27,630.21 148.51,625.35 149.74,620.91 150.97,616.85 152.2,613.12 153.43,609.7 154.66,606.57 155.89,603.71 157.12,601.1 158.35,598.72 159.58,596.55 160.81,594.56 162.04,592.69 163.27,590.91 164.5,589.17 165.74,587.4 166.97,585.56 168.2,583.62 169.43,581.6 170.66,579.6 171.89,577.7 173.12,576 174.35,574.56 175.58,573.49 176.81,572.82 178.04,572.49 179.27,572.41 180.5,572.51 181.73,572.69 182.97,572.88 184.2,573 185.43,573.04 186.66,573.02 187.89,572.96 189.12,572.87 190.35,572.78 191.58,572.71 193.19,572.66 195.62,572.7 198.04,572.9 200.46,573.26 202.89,573.78 205.31,574.42 207.73,575.19 210.16,576.04 212.58,576.97 215,577.97 217.42,579.02 219.85,580.12 222.27,581.27 224.69,582.47 227.12,583.72 229.54,585.02 231.96,586.38 234.39,587.8 236.81,589.28 239.23,590.82 241.66,592.43 244.08,594.11 246.5,595.84 248.92,597.61 251.35,599.42 253.77,601.25 256.19,603.11 258.62,604.97 261.04,606.83 263.46,608.68 265.89,610.52 268.31,612.33 270.73,614.14 273.16,615.93 275.58,617.73 278,619.52 280.43,621.33 282.85,623.15 285.27,624.99 287.69,626.86 290.12,628.75 292.54,630.68 294.96,632.62 297.39,634.58 299.81,636.55 302.23,638.52 304.66,640.48 307.08,642.44 309.5,644.38 311.93,646.29 314.35,648.18 316.77,650.05 319.19,651.88 321.62,653.7 324.04,655.5 326.46,657.29 328.89,659.07 331.31,660.84 333.73,662.62 336.16,664.39 338.58,666.17 341,667.96 343.43,669.75 345.85,671.56 348.27,673.37 350.69,675.18 353.12,677.01 355.54,678.84 357.96,680.68 360.39,682.52 362.81,684.37 365.23,686.23 367.66,688.08 370.08,689.93 372.5,691.76 374.93,693.58 377.35,695.37 379.77,697.13 382.2,698.86 384.62,700.55 387.04,702.2 389.46,703.81 391.89,705.38 394.31,706.94 396.73,708.47 399.16,710 401.58,711.53 404,713.07 406.43,714.63 408.85,716.21 411.27,717.83 413.7,719.47 416.12,721.12 418.54,722.77 420.96,724.41 423.39,726.01 425.81,727.57 428.23,729.07 430.66,730.5 433.08,731.84 435.5,733.09 437.93,734.25 440.35,735.32 442.77,736.33 445.2,737.28 447.62,738.2 450.04,739.08 452.47,739.94 454.89,740.81 457.31,741.68 459.73,742.57 462.16,743.48 464.58,744.41 467,745.36 469.43,746.33 471.85,747.31 474.27,748.3 476.7,749.31 479.12,750.32 481.54,751.33 483.97,752.35 486.39,753.36 488.81,754.37 491.23,755.37 493.66,756.36 496.08,757.34 498.5,758.29 500.93,759.21 503.35,760.11 505.77,760.97 508.2,761.8 510.62,762.6 513.04,763.36 515.47,764.11 517.89,764.84 520.31,765.55 522.73,766.26 525.16,766.97 527.58,767.68 530,768.4 532.43,769.13 534.85,769.88 537.27,770.64 539.7,771.41 542.12,772.2 544.54,772.98 546.97,773.78 549.39,774.58 551.81,775.37 554.24,776.17 556.66,776.97 559.08,777.77 561.5,778.55 563.93,779.33 566.35,780.1 568.77,780.86 571.2,781.6 573.62,782.33 576.04,783.03 578.47,783.72 580.89,784.38 583.31,785.02 585.74,785.64 588.16,786.24 590.58,786.82 593,787.4 595.43,787.96 597.85,788.51 600.27,789.06 602.7,789.6 605.12,790.14 607.54,790.67 609.97,791.2 612.39,791.72 614.81,792.23 617.24,792.73 619.66,793.22 622.08,793.69 624.51,794.14 626.93,794.57 629.35,794.98 631.77,795.37 634.2,795.74 636.62,796.1 639.04,796.44 641.47,796.77 643.89,797.08 646.31,797.39 648.74,797.69 651.16,797.99 653.58,798.28 656.01,798.57 658.43,798.86 660.85,799.15 663.27,799.43 665.7,799.72 668.12,800.01 670.54,800.31 672.97,800.6 675.39,800.9 677.81,801.2 680.24,801.51 682.66,801.82 685.08,802.13 687.51,802.44 689.93,802.75 692.35,803.05 694.77,803.35 697.2,803.65 699.62,803.94 702.04,804.22 704.47,804.49 706.89,804.76 709.31,805.02 711.74,805.28 714.16,805.53 716.58,805.78 719.01,806.03 721.43,806.27 723.85,806.51 726.28,806.76 728.7,807 731.12,807.23 733.54,807.47 735.97,807.7 738.39,807.92 740.81,808.13 743.24,808.34 745.66,808.54 748.08,808.72 750.51,808.9 752.93,809.06 755.35,809.21 757.78,809.36 760.2,809.51 762.62,809.65 765.04,809.8 767.47,809.95 769.89,810.1 772.31,810.26 774.74,810.44 777.16,810.62 779.58,810.81 782.01,811 784.43,811.2 786.85,811.39 789.28,811.59 791.7,811.79 794.12,811.98 796.55,812.16 798.97,812.34 801.39,812.51 803.81,812.67 806.24,812.82 808.66,812.97 811.08,813.1 813.51,813.23 815.93,813.34 818.35,813.45 820.78,813.54 823.2,813.63 825.62,813.7 828.05,813.77 830.47,813.84 832.89,813.9 835.31,813.97 837.74,814.04 840.16,814.11 842.58,814.19 845.01,814.29 847.43,814.39 849.85,814.51 852.28,814.63 854.7,814.76 857.12,814.89 859.55,815.02 861.97,815.16 864.39,815.29 866.81,815.42 869.24,815.54 871.66,815.65 874.08,815.76 876.51,815.86 878.93,815.95 881.35,816.04 883.78,816.12 886.2,816.2 888.62,816.27 891.05,816.34 893.47,816.41 895.89,816.47 898.32,816.54 900.74,816.6 903.16,816.66 905.58,816.72 908.01,816.78 910.43,816.84 912.85,816.89 915.28,816.95 917.7,817" fill="none" stroke="#000" stroke-width="1.2"/>
<rect x="104.9" y="815.5" width="12.0" height="12.0" fill="#0000ff"/>
<rect x="112.97" y="815.5" width="12.0" height="12.0" fill="#0000ff"/>
<rect x="121.04" y="808" width="12.0" height="12.0" fill="#0000ff"/>
<rect x="129.1" y="772.5" width="12.0" height="12.0" fill="#0000ff"/>
<rect x="137.17" y="716.7" width="12.0" height="12.0" fill="#0000ff"/>
<rect x="145.24" y="661.3" width="12.0" height="12.0" fill="#0000ff"/>
<rect x="153.31" y="616.5" width="12.0" height="12.0" fill="#0000ff"/>
<rect x="161.38" y="578.3" width="12.0" height="12.0" fill="#0000ff"/>
<rect x="169.44" y="552.3" width="12.0" height="12.0" fill="#0000ff"/>
<rect x="177.51" y="533.7" width="12.0" height="12.0" fill="#0000ff"/>
<rect x="185.58" y="520.6" width="12.0" height="12.0" fill="#0000ff"/>
<rect x="209.78" y="499" width="12.0" height="12.0" fill="#0000ff"/>
<rect x="233.99" y="489.6" width="12.0" height="12.0" fill="#0000ff"/>
<rect x="258.19" y="487.1" width="12.0" height="12.0" fill="#0000ff"/>
<rect x="282.4" y="487" width="12.0" height="12.0" fill="#0000ff"/>
<rect x="306.6" y="489" width="12.0" height="12.0" fill="#0000ff"/>
<rect x="330.8" y="493" width="12.0" height="12.0" fill="#0000ff"/>
<rect x="355.01" y="497" width="12.0" height="12.0" fill="#0000ff"/>
<rect x="379.21" y="503.5" width="12.0" height="12.0" fill="#0000ff"/>
<rect x="403.42" y="509.7" width="12.0" height="12.0" fill="#0000ff"/>
<rect x="427.62" y="516.8" width="12.0" height="12.0" fill="#0000ff"/>
<rect x="451.82" y="525.8" width="12.0" height="12.0" fill="#0000ff"/>
<rect x="476.03" y="534.6" width="12.0" height="12.0" fill="#0000ff"/>
<rect x="500.23" y="545.6" width="12.0" height="12.0" fill="#0000ff"/>
<rect x="524.44" y="554" width="12.0" height="12.0" fill="#0000ff"/>
<rect x="548.64" y="562.8" width="12.0" height="12.0" fill="#0000ff"/>
<rect x="572.84" y="573.2" width="12.0" height="12.0" fill="#0000ff"/>
<rect x="597.05" y="583.1" width="12.0" height="12.0" fill="#0000ff"/>
<rect x="621.25" y="594.4" width="12.0" height="12.0" fill="#0000ff"/>
<rect x="645.46" y="604.3" width="12.0" height="12.0" fill="#0000ff"/>
<rect x="669.66" y="615.6" width="12.0" height="12.0" fill="#0000ff"/>
<rect x="693.86" y="628.9" width="12.0" height="12.0" fill="#0000ff"/>
<rect x="718.07" y="638.2" width="12.0" height="12.0" fill="#0000ff"/>
<rect x="742.27" y="648.1" width="12.0" height="12.0" fill="#0000ff"/>
<rect x="766.48" y="655.7" width="12.0" height="12.0" fill="#0000ff"/>
<rect x="790.68" y="665.8" width="12.0" height="12.0" fill="#0000ff"/>
<rect x="814.88" y="675.7" width="12.0" height="12.0" fill="#0000ff"/>
<rect x="839.09" y="684.8" width="12.0" height="12.0" fill="#0000ff"/>
<rect x="863.29" y="693.2" width="12.0" height="12.0" fill="#0000ff"/>
<rect x="887.5" y="699.7" width="12.0" height="12.0" fill="#0000ff"/>
<rect x="911.7" y="707.3" width="12.0" height="12.0" fill="#0000ff"/>
<polyline points="118.97,821.59 120.2,821.4 121.43,821.03 122.66,820.36 123.89,819.28 125.12,817.68 126.35,815.43 127.58,812.43 128.81,808.64 130.04,804.09 131.28,798.84 132.51,792.92 133.74,786.39 134.97,779.29 136.2,771.67 137.43,763.6 138.66,755.19 139.89,746.51 141.12,737.65 142.35,728.71 143.58,719.76 144.81,710.89 146.04,702.13 147.27,693.53 148.51,685.12 149.74,676.96 150.97,669.08 152.2,661.51 153.43,654.25 154.66,647.25 155.89,640.46 157.12,633.86 158.35,627.39 159.58,621.02 160.81,614.73 162.04,608.56 163.27,602.56 164.5,596.78 165.74,591.25 166.97,586.03 168.2,581.16 169.43,576.63 170.66,572.41 171.89,568.47 173.12,564.76 174.35,561.25 175.58,557.91 176.81,554.71 178.04,551.64 179.27,548.72 180.5,545.94 181.73,543.29 182.97,540.78 184.2,538.41 185.43,536.17 186.66,534.05 187.89,532.05 189.12,530.14 190.35,528.32 191.58,526.59 193.19,524.43 195.62,521.43 198.04,518.68 200.46,516.19 202.89,513.93 205.31,511.89 207.73,510.04 210.16,508.36 212.58,506.83 215,505.41 217.42,504.1 219.85,502.88 222.27,501.73 224.69,500.67 227.12,499.68 229.54,498.77 231.96,497.92 234.39,497.14 236.81,496.44 239.23,495.81 241.66,495.27 244.08,494.8 246.5,494.39 248.92,494.05 251.35,493.77 253.77,493.53 256.19,493.34 258.62,493.18 261.04,493.05 263.46,492.95 265.89,492.87 268.31,492.81 270.73,492.76 273.16,492.73 275.58,492.73 278,492.74 280.43,492.77 282.85,492.82 285.27,492.89 287.69,492.98 290.12,493.08 292.54,493.21 294.96,493.36 297.39,493.53 299.81,493.72 302.23,493.94 304.66,494.17 307.08,494.42 309.5,494.69 311.93,494.99 314.35,495.31 316.77,495.64 319.19,495.99 321.62,496.36 324.04,496.74 326.46,497.13 328.89,497.52 331.31,497.92 333.73,498.32 336.16,498.72 338.58,499.12 341,499.52 343.43,499.92 345.85,500.33 348.27,500.74 350.69,501.17 353.12,501.61 355.54,502.08 357.96,502.56 360.39,503.07 362.81,503.6 365.23,504.16 367.66,504.75 370.08,505.36 372.5,505.98 374.93,506.61 377.35,507.25 379.77,507.9 382.2,508.55 384.62,509.19 387.04,509.83 389.46,510.47 391.89,511.1 394.31,511.73 396.73,512.36 399.16,512.99 401.58,513.63 404,514.26 406.43,514.91 408.85,515.55 411.27,516.21 413.7,516.88 416.12,517.56 418.54,518.25 420.96,518.96 423.39,519.68 425.81,520.41 428.23,521.17 430.66,521.94 433.08,522.73 435.5,523.55 437.93,524.38 440.35,525.23 442.77,526.1 445.2,526.97 447.62,527.86 450.04,528.75 452.47,529.65 454.89,530.54 457.31,531.44 459.73,532.33 462.16,533.23 464.58,534.12 467,535.02 469.43,535.92 471.85,536.84 474.27,537.77 476.7,538.71 479.12,539.68 481.54,540.67 483.97,541.69 486.39,542.73 488.81,543.78 491.23,544.85 493.66,545.92 496.08,546.99 498.5,548.05 500.93,549.09 503.35,550.12 505.77,551.12 508.2,552.09 510.62,553.03 513.04,553.94 515.47,554.84 517.89,555.71 520.31,556.56 522.73,557.41 525.16,558.25 527.58,559.08 530,559.92 532.43,560.76 534.85,561.6 537.27,562.46 539.7,563.32 542.12,564.19 544.54,565.08 546.97,565.97 549.39,566.89 551.81,567.82 554.24,568.76 556.66,569.73 559.08,570.72 561.5,571.71 563.93,572.72 566.35,573.74 568.77,574.77 571.2,575.8 573.62,576.83 576.04,577.86 578.47,578.89 580.89,579.91 583.31,580.92 585.74,581.93 588.16,582.94 590.58,583.95 593,584.97 595.43,585.99 597.85,587.02 600.27,588.07 602.7,589.12 605.12,590.2 607.54,591.28 609.97,592.38 612.39,593.49 614.81,594.59 617.24,595.7 619.66,596.8 622.08,597.89 624.51,598.98 626.93,600.04 629.35,601.09 631.77,602.13 634.2,603.15 636.62,604.16 639.04,605.17 641.47,606.17 643.89,607.18 646.31,608.19 648.74,609.22 651.16,610.26 653.58,611.31 656.01,612.38 658.43,613.47 660.85,614.58 663.27,615.71 665.7,616.87 668.12,618.04 670.54,619.24 672.97,620.46 675.39,621.71 677.81,622.98 680.24,624.27 682.66,625.57 685.08,626.88 687.51,628.18 689.93,629.48 692.35,630.75 694.77,632 697.2,633.21 699.62,634.39 702.04,635.51 704.47,636.6 706.89,637.65 709.31,638.66 711.74,639.65 714.16,640.62 716.58,641.57 719.01,642.51 721.43,643.46 723.85,644.4 726.28,645.35 728.7,646.31 731.12,647.27 733.54,648.23 735.97,649.18 738.39,650.13 740.81,651.06 743.24,651.97 745.66,652.87 748.08,653.74 750.51,654.59 752.93,655.41 755.35,656.22 757.78,657.02 760.2,657.81 762.62,658.61 765.04,659.41 767.47,660.23 769.89,661.06 772.31,661.92 774.74,662.81 777.16,663.73 779.58,664.67 782.01,665.63 784.43,666.61 786.85,667.61 789.28,668.61 791.7,669.63 794.12,670.64 796.55,671.66 798.97,672.68 801.39,673.7 803.81,674.71 806.24,675.71 808.66,676.72 811.08,677.71 813.51,678.7 815.93,679.69 818.35,680.66 820.78,681.63 823.2,682.59 825.62,683.54 828.05,684.48 830.47,685.41 832.89,686.33 835.31,687.25 837.74,688.15 840.16,689.05 842.58,689.94 845.01,690.82 847.43,691.7 849.85,692.57 852.28,693.42 854.7,694.26 857.12,695.1 859.55,695.91 861.97,696.71 864.39,697.49 866.81,698.26 869.24,699 871.66,699.73 874.08,700.44 876.51,701.13 878.93,701.81 881.35,702.49 883.78,703.16 886.2,703.83 888.62,704.51 891.05,705.19 893.47,705.89 895.89,706.59 898.32,707.31 900.74,708.03 903.16,708.77 905.58,709.51 908.01,710.25 910.43,711 912.85,711.74 915.28,712.49 917.7,713.24" fill="none" stroke="#000" stroke-width="1.2"/>
<rect x="104.9" y="815.5" width="12.0" height="12.0" fill="#467d1e"/>
<rect x="112.97" y="815.5" width="12.0" height="12.0" fill="#467d1e"/>
<rect x="121.04" y="815" width="12.0" height="12.0" fill="#467d1e"/>
<rect x="129.1" y="804.3" width="12.0" height="12.0" fill="#467d1e"/>
<rect x="137.17" y="775.4" width="12.0" height="12.0" fill="#467d1e"/>
<rect x="145.24" y="721.6" width="12.0" height="12.0" fill="#467d1e"/>
<rect x="153.31" y="683" width="12.0" height="12.0" fill="#467d1e"/>
<rect x="161.38" y="630.2" width="12.0" height="12.0" fill="#467d1e"/>
<rect x="169.44" y="593" width="12.0" height="12.0" fill="#467d1e"/>
<rect x="177.51" y="561.1" width="12.0" height="12.0" fill="#467d1e"/>
<rect x="185.58" y="536.5" width="12.0" height="12.0" fill="#467d1e"/>
<rect x="209.78" y="498.1" width="12.0" height="12.0" fill="#467d1e"/>
<rect x="233.99" y="476.1" width="12.0" height="12.0" fill="#467d1e"/>
<rect x="258.19" y="471" width="12.0" height="12.0" fill="#467d1e"/>
<rect x="282.4" y="464.3" width="12.0" height="12.0" fill="#467d1e"/>
<rect x="306.6" y="464.6" width="12.0" height="12.0" fill="#467d1e"/>
<rect x="330.8" y="464.6" width="12.0" height="12.0" fill="#467d1e"/>
<rect x="355.01" y="465.5" width="12.0" height="12.0" fill="#467d1e"/>
<rect x="379.21" y="463.7" width="12.0" height="12.0" fill="#467d1e"/>
<rect x="403.42" y="464.3" width="12.0" height="12.0" fill="#467d1e"/>
<rect x="427.62" y="468" width="12.0" height="12.0" fill="#467d1e"/>
<rect x="451.82" y="469" width="12.0" height="12.0" fill="#467d1e"/>
<rect x="476.03" y="470.8" width="12.0" height="12.0" fill="#467d1e"/>
<rect x="500.23" y="469.9" width="12.0" height="12.0" fill="#467d1e"/>
<rect x="524.44" y="472.6" width="12.0" height="12.0" fill="#467d1e"/>
<rect x="548.64" y="475.3" width="12.0" height="12.0" fill="#467d1e"/>
<rect x="572.84" y="479" width="12.0" height="12.0" fill="#467d1e"/>
<rect x="597.05" y="481.6" width="12.0" height="12.0" fill="#467d1e"/>
<rect x="621.25" y="484.3" width="12.0" height="12.0" fill="#467d1e"/>
<rect x="645.46" y="490.8" width="12.0" height="12.0" fill="#467d1e"/>
<rect x="669.66" y="493.3" width="12.0" height="12.0" fill="#467d1e"/>
<rect x="693.86" y="496.4" width="12.0" height="12.0" fill="#467d1e"/>
<rect x="718.07" y="501.2" width="12.0" height="12.0" fill="#467d1e"/>
<rect x="742.27" y="504.1" width="12.0" height="12.0" fill="#467d1e"/>
<rect x="766.48" y="510.6" width="12.0" height="12.0" fill="#467d1e"/>
<rect x="790.68" y="517.6" width="12.0" height="12.0" fill="#467d1e"/>
<rect x="814.88" y="523.8" width="12.0" height="12.0" fill="#467d1e"/>
<rect x="839.09" y="529.5" width="12.0" height="12.0" fill="#467d1e"/>
<rect x="863.29" y="536.5" width="12.0" height="12.0" fill="#467d1e"/>
<rect x="887.5" y="545" width="12.0" height="12.0" fill="#467d1e"/>
<rect x="911.7" y="546.4" width="12.0" height="12.0" fill="#467d1e"/>
<polyline points="118.97,821.59 120.2,821.7 121.43,821.81 122.66,821.87 123.89,821.82 125.12,821.64 126.35,821.26 127.58,820.65 128.81,819.76 130.04,818.59 131.28,817.12 132.51,815.32 133.74,813.19 134.97,810.71 136.2,807.85 137.43,804.54 138.66,800.71 139.89,796.27 141.12,791.13 142.35,785.23 143.58,778.46 144.81,770.89 146.04,762.76 147.27,754.35 148.51,745.92 149.74,737.73 150.97,730.07 152.2,723.15 153.43,716.88 154.66,711.01 155.89,705.3 157.12,699.5 158.35,693.37 159.58,686.66 160.81,679.27 162.04,671.38 163.27,663.21 164.5,654.97 165.74,646.89 166.97,639.19 168.2,632.06 169.43,625.52 170.66,619.48 171.89,613.83 173.12,608.46 174.35,603.29 175.58,598.22 176.81,593.17 178.04,588.16 179.27,583.23 180.5,578.39 181.73,573.67 182.97,569.11 184.2,564.73 185.43,560.53 186.66,556.54 187.89,552.74 189.12,549.14 190.35,545.74 191.58,542.55 193.19,538.67 195.62,533.41 198.04,528.72 200.46,524.49 202.89,520.63 205.31,517.07 207.73,513.76 210.16,510.64 212.58,507.67 215,504.82 217.42,502.06 219.85,499.39 222.27,496.83 224.69,494.38 227.12,492.07 229.54,489.9 231.96,487.87 234.39,486 236.81,484.3 239.23,482.79 241.66,481.48 244.08,480.36 246.5,479.41 248.92,478.6 251.35,477.91 253.77,477.31 256.19,476.78 258.62,476.3 261.04,475.86 263.46,475.42 265.89,474.97 268.31,474.5 270.73,474.03 273.16,473.55 275.58,473.09 278,472.64 280.43,472.21 282.85,471.81 285.27,471.45 287.69,471.14 290.12,470.88 292.54,470.68 294.96,470.52 297.39,470.4 299.81,470.32 302.23,470.27 304.66,470.25 307.08,470.25 309.5,470.27 311.93,470.29 314.35,470.32 316.77,470.36 319.19,470.39 321.62,470.43 324.04,470.48 326.46,470.53 328.89,470.58 331.31,470.63 333.73,470.69 336.16,470.75 338.58,470.81 341,470.87 343.43,470.93 345.85,470.99 348.27,471.03 350.69,471.07 353.12,471.09 355.54,471.09 357.96,471.07 360.39,471.04 362.81,470.97 365.23,470.88 367.66,470.78 370.08,470.66 372.5,470.53 374.93,470.41 377.35,470.28 379.77,470.17 382.2,470.07 384.62,469.98 387.04,469.92 389.46,469.89 391.89,469.88 394.31,469.9 396.73,469.95 399.16,470.02 401.58,470.13 404,470.26 406.43,470.43 408.85,470.62 411.27,470.85 413.7,471.1 416.12,471.38 418.54,471.67 420.96,471.98 423.39,472.29 425.81,472.6 428.23,472.9 430.66,473.19 433.08,473.46 435.5,473.71 437.93,473.94 440.35,474.15 442.77,474.34 445.2,474.51 447.62,474.68 450.04,474.83 452.47,474.98 454.89,475.12 457.31,475.26 459.73,475.4 462.16,475.54 464.58,475.67 467,475.8 469.43,475.92 471.85,476.03 474.27,476.13 476.7,476.21 479.12,476.27 481.54,476.32 483.97,476.34 486.39,476.34 488.81,476.34 491.23,476.32 493.66,476.3 496.08,476.29 498.5,476.28 500.93,476.3 503.35,476.33 505.77,476.39 508.2,476.48 510.62,476.6 513.04,476.76 515.47,476.93 517.89,477.13 520.31,477.35 522.73,477.59 525.16,477.84 527.58,478.1 530,478.37 532.43,478.64 534.85,478.92 537.27,479.21 539.7,479.5 542.12,479.8 544.54,480.1 546.97,480.41 549.39,480.72 551.81,481.04 554.24,481.37 556.66,481.71 559.08,482.05 561.5,482.39 563.93,482.74 566.35,483.08 568.77,483.43 571.2,483.77 573.62,484.1 576.04,484.42 578.47,484.74 580.89,485.04 583.31,485.33 585.74,485.62 588.16,485.89 590.58,486.16 593,486.42 595.43,486.69 597.85,486.95 600.27,487.21 602.7,487.48 605.12,487.75 607.54,488.02 609.97,488.31 612.39,488.61 614.81,488.92 617.24,489.26 619.66,489.62 622.08,490 624.51,490.41 626.93,490.86 629.35,491.33 631.77,491.84 634.2,492.37 636.62,492.91 639.04,493.46 641.47,494.01 643.89,494.56 646.31,495.08 648.74,495.59 651.16,496.07 653.58,496.51 656.01,496.91 658.43,497.29 660.85,497.64 663.27,497.97 665.7,498.28 668.12,498.58 670.54,498.87 672.97,499.15 675.39,499.44 677.81,499.72 680.24,500.01 682.66,500.3 685.08,500.6 687.51,500.91 689.93,501.23 692.35,501.56 694.77,501.9 697.2,502.26 699.62,502.63 702.04,503.01 704.47,503.41 706.89,503.81 709.31,504.23 711.74,504.65 714.16,505.06 716.58,505.48 719.01,505.89 721.43,506.29 723.85,506.68 726.28,507.05 728.7,507.41 731.12,507.77 733.54,508.13 735.97,508.49 738.39,508.86 740.81,509.24 743.24,509.64 745.66,510.07 748.08,510.52 750.51,511.01 752.93,511.53 755.35,512.08 757.78,512.66 760.2,513.25 762.62,513.87 765.04,514.51 767.47,515.17 769.89,515.83 772.31,516.51 774.74,517.19 777.16,517.89 779.58,518.58 782.01,519.28 784.43,519.98 786.85,520.67 789.28,521.37 791.7,522.06 794.12,522.74 796.55,523.41 798.97,524.07 801.39,524.73 803.81,525.37 806.24,526 808.66,526.63 811.08,527.25 813.51,527.86 815.93,528.46 818.35,529.06 820.78,529.66 823.2,530.24 825.62,530.83 828.05,531.41 830.47,532 832.89,532.59 835.31,533.19 837.74,533.8 840.16,534.42 842.58,535.05 845.01,535.69 847.43,536.36 849.85,537.04 852.28,537.74 854.7,538.45 857.12,539.17 859.55,539.91 861.97,540.66 864.39,541.42 866.81,542.19 869.24,542.97 871.66,543.75 874.08,544.54 876.51,545.32 878.93,546.08 881.35,546.82 883.78,547.53 886.2,548.21 888.62,548.84 891.05,549.43 893.47,549.96 895.89,550.43 898.32,550.84 900.74,551.2 903.16,551.52 905.58,551.8 908.01,552.06 910.43,552.29 912.85,552.5 915.28,552.7 917.7,552.89" fill="none" stroke="#467d1e" stroke-width="1.2"/>
<rect x="104.9" y="815.5" width="12.0" height="12.0" fill="#e10005"/>
<rect x="112.97" y="815.5" width="12.0" height="12.0" fill="#e10005"/>
<rect x="121.04" y="815.5" width="12.0" height="12.0" fill="#e10005"/>
<rect x="129.1" y="815.5" width="12.0" height="12.0" fill="#e10005"/>
<rect x="137.17" y="803.2" width="12.0" height="12.0" fill="#e10005"/>
<rect x="145.24" y="780.3" width="12.0" height="12.0" fill="#e10005"/>
<rect x="153.31" y="725.5" width="12.0" height="12.0" fill="#e10005"/>
<rect x="161.38" y="705.9" width="12.0" height="12.0" fill="#e10005"/>
<rect x="169.44" y="653.7" width="12.0" height="12.0" fill="#e10005"/>
<rect x="177.51" y="639" width="12.0" height="12.0" fill="#e10005"/>
<rect x="185.58" y="578.1" width="12.0" height="12.0" fill="#e10005"/>
<rect x="209.78" y="507.4" width="12.0" height="12.0" fill="#e10005"/>
<rect x="233.99" y="478.6" width="12.0" height="12.0" fill="#e10005"/>
<rect x="258.19" y="469" width="12.0" height="12.0" fill="#e10005"/>
<rect x="282.4" y="461.3" width="12.0" height="12.0" fill="#e10005"/>
<rect x="306.6" y="461.3" width="12.0" height="12.0" fill="#e10005"/>
<rect x="330.8" y="461.3" width="12.0" height="12.0" fill="#e10005"/>
<rect x="355.01" y="461.3" width="12.0" height="12.0" fill="#e10005"/>
<rect x="379.21" y="461.3" width="12.0" height="12.0" fill="#e10005"/>
<rect x="403.42" y="461.3" width="12.0" height="12.0" fill="#e10005"/>
<rect x="427.62" y="460.3" width="12.0" height="12.0" fill="#e10005"/>
<rect x="451.82" y="460.3" width="12.0" height="12.0" fill="#e10005"/>
<rect x="476.03" y="458.5" width="12.0" height="12.0" fill="#e10005"/>
<rect x="500.23" y="458.8" width="12.0" height="12.0" fill="#e10005"/>
<rect x="524.44" y="458.3" width="12.0" height="12.0" fill="#e10005"/>
<rect x="548.64" y="458.8" width="12.0" height="12.0" fill="#e10005"/>
<rect x="572.84" y="458.8" width="12.0" height="12.0" fill="#e10005"/>
<rect x="597.05" y="461" width="12.0" height="12.0" fill="#e10005"/>
<rect x="621.25" y="459.5" width="12.0" height="12.0" fill="#e10005"/>
<rect x="645.46" y="461.1" width="12.0" height="12.0" fill="#e10005"/>
<rect x="669.66" y="461.7" width="12.0" height="12.0" fill="#e10005"/>
<rect x="693.86" y="462.6" width="12.0" height="12.0" fill="#e10005"/>
<rect x="718.07" y="464.5" width="12.0" height="12.0" fill="#e10005"/>
<rect x="742.27" y="466.5" width="12.0" height="12.0" fill="#e10005"/>
<rect x="766.48" y="463.7" width="12.0" height="12.0" fill="#e10005"/>
<rect x="790.68" y="466.5" width="12.0" height="12.0" fill="#e10005"/>
<rect x="814.88" y="472.2" width="12.0" height="12.0" fill="#e10005"/>
<rect x="839.09" y="470.2" width="12.0" height="12.0" fill="#e10005"/>
<rect x="863.29" y="473" width="12.0" height="12.0" fill="#e10005"/>
<rect x="887.5" y="475.8" width="12.0" height="12.0" fill="#e10005"/>
<rect x="911.7" y="477.2" width="12.0" height="12.0" fill="#e10005"/>
<polyline points="118.97,821.47 120.2,821.47 121.43,821.48 122.66,821.51 123.89,821.55 125.12,821.63 126.35,821.74 127.58,821.89 128.81,822.06 130.04,822.19 131.28,822.22 132.51,822.1 133.74,821.78 134.97,821.18 136.2,820.28 137.43,819.06 138.66,817.56 139.89,815.8 141.12,813.8 142.35,811.58 143.58,809.17 144.81,806.52 146.04,803.52 147.27,800.02 148.51,795.9 149.74,791.01 150.97,785.22 152.2,778.44 153.43,770.88 154.66,762.9 155.89,754.87 157.12,747.15 158.35,740.1 159.58,734.08 160.81,729.22 162.04,725.2 163.27,721.61 164.5,718.07 165.74,714.19 166.97,709.58 168.2,703.89 169.43,697.24 170.66,690.05 171.89,682.71 173.12,675.63 174.35,669.22 175.58,663.87 176.81,659.76 178.04,656.51 179.27,653.63 180.5,650.66 181.73,647.13 182.97,642.62 184.2,636.74 185.43,629.51 186.66,621.34 187.89,612.61 189.12,603.69 190.35,594.93 191.58,586.65 193.19,576.85 195.62,564.29 198.04,553.91 200.46,545.3 202.89,538.09 205.31,531.96 207.73,526.68 210.16,522.02 212.58,517.82 215,513.96 217.42,510.34 219.85,506.91 222.27,503.67 224.69,500.61 227.12,497.71 229.54,494.99 231.96,492.42 234.39,490.01 236.81,487.78 239.23,485.72 241.66,483.84 244.08,482.15 246.5,480.61 248.92,479.22 251.35,477.96 253.77,476.82 256.19,475.78 258.62,474.84 261.04,473.97 263.46,473.17 265.89,472.43 268.31,471.74 270.73,471.1 273.16,470.5 275.58,469.96 278,469.46 280.43,469.01 282.85,468.61 285.27,468.26 287.69,467.95 290.12,467.69 292.54,467.47 294.96,467.3 297.39,467.15 299.81,467.04 302.23,466.96 304.66,466.9 307.08,466.86 309.5,466.84 311.93,466.84 314.35,466.84 316.77,466.85 319.19,466.87 321.62,466.89 324.04,466.92 326.46,466.95 328.89,466.98 331.31,467.02 333.73,467.05 336.16,467.09 338.58,467.12 341,467.15 343.43,467.18 345.85,467.2 348.27,467.23 350.69,467.25 353.12,467.27 355.54,467.28 357.96,467.3 360.39,467.31 362.81,467.33 365.23,467.34 367.66,467.34 370.08,467.35 372.5,467.36 374.93,467.36 377.35,467.36 379.77,467.36 382.2,467.36 384.62,467.35 387.04,467.34 389.46,467.33 391.89,467.32 394.31,467.31 396.73,467.29 399.16,467.27 401.58,467.24 404,467.21 406.43,467.18 408.85,467.14 411.27,467.1 413.7,467.05 416.12,466.99 418.54,466.94 420.96,466.88 423.39,466.82 425.81,466.76 428.23,466.69 430.66,466.63 433.08,466.57 435.5,466.51 437.93,466.45 440.35,466.39 442.77,466.32 445.2,466.26 447.62,466.2 450.04,466.13 452.47,466.05 454.89,465.98 457.31,465.89 459.73,465.81 462.16,465.71 464.58,465.61 467,465.51 469.43,465.41 471.85,465.31 474.27,465.22 476.7,465.13 479.12,465.04 481.54,464.96 483.97,464.89 486.39,464.83 488.81,464.78 491.23,464.74 493.66,464.7 496.08,464.66 498.5,464.63 500.93,464.61 503.35,464.58 505.77,464.56 508.2,464.54 510.62,464.52 513.04,464.5 515.47,464.48 517.89,464.46 520.31,464.45 522.73,464.44 525.16,464.43 527.58,464.43 530,464.43 532.43,464.43 534.85,464.44 537.27,464.46 539.7,464.48 542.12,464.5 544.54,464.53 546.97,464.56 549.39,464.59 551.81,464.63 554.24,464.67 556.66,464.71 559.08,464.76 561.5,464.8 563.93,464.86 566.35,464.91 568.77,464.97 571.2,465.04 573.62,465.11 576.04,465.18 578.47,465.26 580.89,465.35 583.31,465.45 585.74,465.54 588.16,465.64 590.58,465.74 593,465.83 595.43,465.91 597.85,465.99 600.27,466.05 602.7,466.1 605.12,466.14 607.54,466.16 609.97,466.17 612.39,466.18 614.81,466.18 617.24,466.18 619.66,466.18 622.08,466.18 624.51,466.18 626.93,466.2 629.35,466.23 631.77,466.27 634.2,466.31 636.62,466.37 639.04,466.43 641.47,466.5 643.89,466.58 646.31,466.65 648.74,466.74 651.16,466.82 653.58,466.9 656.01,466.98 658.43,467.07 660.85,467.15 663.27,467.24 665.7,467.32 668.12,467.41 670.54,467.5 672.97,467.6 675.39,467.7 677.81,467.8 680.24,467.9 682.66,468.01 685.08,468.12 687.51,468.24 689.93,468.36 692.35,468.49 694.77,468.62 697.2,468.76 699.62,468.9 702.04,469.05 704.47,469.21 706.89,469.37 709.31,469.53 711.74,469.69 714.16,469.85 716.58,470.01 719.01,470.16 721.43,470.31 723.85,470.46 726.28,470.59 728.7,470.72 731.12,470.83 733.54,470.94 735.97,471.03 738.39,471.11 740.81,471.17 743.24,471.21 745.66,471.24 748.08,471.24 750.51,471.23 752.93,471.2 755.35,471.16 757.78,471.12 760.2,471.07 762.62,471.04 765.04,471.01 767.47,471.01 769.89,471.03 772.31,471.07 774.74,471.15 777.16,471.27 779.58,471.41 782.01,471.58 784.43,471.78 786.85,472.01 789.28,472.26 791.7,472.53 794.12,472.82 796.55,473.12 798.97,473.44 801.39,473.78 803.81,474.11 806.24,474.45 808.66,474.78 811.08,475.1 813.51,475.41 815.93,475.7 818.35,475.96 820.78,476.19 823.2,476.38 825.62,476.55 828.05,476.69 830.47,476.8 832.89,476.91 835.31,477 837.74,477.09 840.16,477.18 842.58,477.28 845.01,477.38 847.43,477.5 849.85,477.63 852.28,477.78 854.7,477.94 857.12,478.11 859.55,478.29 861.97,478.48 864.39,478.68 866.81,478.89 869.24,479.1 871.66,479.32 874.08,479.55 876.51,479.78 878.93,480.01 881.35,480.25 883.78,480.48 886.2,480.71 888.62,480.94 891.05,481.16 893.47,481.38 895.89,481.6 898.32,481.81 900.74,482.01 903.16,482.21 905.58,482.4 908.01,482.59 910.43,482.78 912.85,482.97 915.28,483.15 917.7,483.33" fill="none" stroke="#e10005" stroke-width="1.2"/>
</g>
<g clip-path="url(#cC)">
<path d="M109.8 1261.5L116.7 1268.4L109.8 1275.3L102.9 1268.4Z" fill="#000000" stroke="#000000" stroke-width="0.6"/>
<path d="M111.82 1261.47L118.72 1268.37L111.82 1275.27L104.92 1268.37Z" fill="#000000" stroke="#000000" stroke-width="0.6"/>
<path d="M113.83 1260.64L120.73 1267.54L113.83 1274.44L106.93 1267.54Z" fill="#000000" stroke="#000000" stroke-width="0.6"/>
<path d="M115.85 1258.59L122.75 1265.49L115.85 1272.39L108.95 1265.49Z" fill="#000000" stroke="#000000" stroke-width="0.6"/>
<path d="M117.87 1255.78L124.77 1262.68L117.87 1269.58L110.97 1262.68Z" fill="#000000" stroke="#000000" stroke-width="0.6"/>
<path d="M119.88 1252.94L126.78 1259.84L119.88 1266.74L112.98 1259.84Z" fill="#000000" stroke="#000000" stroke-width="0.6"/>
<path d="M121.9 1250.28L128.8 1257.18L121.9 1264.08L115 1257.18Z" fill="#000000" stroke="#000000" stroke-width="0.6"/>
<path d="M123.92 1247.71L130.82 1254.61L123.92 1261.51L117.02 1254.61Z" fill="#000000" stroke="#000000" stroke-width="0.6"/>
<path d="M125.94 1244.97L132.84 1251.87L125.94 1258.77L119.04 1251.87Z" fill="#000000" stroke="#000000" stroke-width="0.6"/>
<path d="M127.95 1242.87L134.85 1249.77L127.95 1256.67L121.05 1249.77Z" fill="#000000" stroke="#000000" stroke-width="0.6"/>
<path d="M129.97 1240.78L136.87 1247.68L129.97 1254.58L123.07 1247.68Z" fill="#000000" stroke="#000000" stroke-width="0.6"/>
<path d="M136.02 1235.16L142.92 1242.06L136.02 1248.96L129.12 1242.06Z" fill="#000000" stroke="#000000" stroke-width="0.6"/>
<path d="M142.07 1230.82L148.97 1237.72L142.07 1244.62L135.17 1237.72Z" fill="#000000" stroke="#000000" stroke-width="0.6"/>
<path d="M148.12 1227.95L155.02 1234.85L148.12 1241.75L141.22 1234.85Z" fill="#000000" stroke="#000000" stroke-width="0.6"/>
<path d="M154.17 1225.89L161.07 1232.79L154.17 1239.69L147.27 1232.79Z" fill="#000000" stroke="#000000" stroke-width="0.6"/>
<path d="M160.22 1225.16L167.12 1232.06L160.22 1238.96L153.32 1232.06Z" fill="#000000" stroke="#000000" stroke-width="0.6"/>
<path d="M166.28 1224.95L173.18 1231.85L166.28 1238.75L159.38 1231.85Z" fill="#000000" stroke="#000000" stroke-width="0.6"/>
<path d="M172.33 1225.71L179.23 1232.61L172.33 1239.51L165.43 1232.61Z" fill="#000000" stroke="#000000" stroke-width="0.6"/>
<path d="M178.38 1227.43L185.28 1234.33L178.38 1241.23L171.48 1234.33Z" fill="#000000" stroke="#000000" stroke-width="0.6"/>
<path d="M184.43 1229.05L191.33 1235.95L184.43 1242.85L177.53 1235.95Z" fill="#000000" stroke="#000000" stroke-width="0.6"/>
<path d="M190.48 1231.88L197.38 1238.78L190.48 1245.68L183.58 1238.78Z" fill="#000000" stroke="#000000" stroke-width="0.6"/>
<path d="M196.53 1232.88L203.43 1239.78L196.53 1246.68L189.63 1239.78Z" fill="#000000" stroke="#000000" stroke-width="0.6"/>
<path d="M202.58 1234.68L209.48 1241.58L202.58 1248.48L195.68 1241.58Z" fill="#000000" stroke="#000000" stroke-width="0.6"/>
<path d="M208.63 1236.93L215.53 1243.83L208.63 1250.73L201.73 1243.83Z" fill="#000000" stroke="#000000" stroke-width="0.6"/>
<path d="M214.68 1238.5L221.58 1245.4L214.68 1252.3L207.78 1245.4Z" fill="#000000" stroke="#000000" stroke-width="0.6"/>
<path d="M220.74 1240.79L227.64 1247.69L220.74 1254.59L213.84 1247.69Z" fill="#000000" stroke="#000000" stroke-width="0.6"/>
<path d="M226.79 1243.33L233.69 1250.23L226.79 1257.13L219.89 1250.23Z" fill="#000000" stroke="#000000" stroke-width="0.6"/>
<path d="M232.84 1245.29L239.74 1252.19L232.84 1259.09L225.94 1252.19Z" fill="#000000" stroke="#000000" stroke-width="0.6"/>
<path d="M238.89 1247.21L245.79 1254.11L238.89 1261.01L231.99 1254.11Z" fill="#000000" stroke="#000000" stroke-width="0.6"/>
<path d="M244.94 1248.38L251.84 1255.28L244.94 1262.18L238.04 1255.28Z" fill="#000000" stroke="#000000" stroke-width="0.6"/>
<path d="M250.99 1249.49L257.89 1256.39L250.99 1263.29L244.09 1256.39Z" fill="#000000" stroke="#000000" stroke-width="0.6"/>
<path d="M257.04 1250.86L263.94 1257.76L257.04 1264.66L250.14 1257.76Z" fill="#000000" stroke="#000000" stroke-width="0.6"/>
<path d="M263.09 1252L269.99 1258.9L263.09 1265.8L256.19 1258.9Z" fill="#000000" stroke="#000000" stroke-width="0.6"/>
<path d="M269.14 1253.14L276.04 1260.04L269.14 1266.94L262.24 1260.04Z" fill="#000000" stroke="#000000" stroke-width="0.6"/>
<path d="M275.19 1253.78L282.09 1260.68L275.19 1267.58L268.29 1260.68Z" fill="#000000" stroke="#000000" stroke-width="0.6"/>
<path d="M281.25 1254.92L288.14 1261.82L281.25 1268.72L274.35 1261.82Z" fill="#000000" stroke="#000000" stroke-width="0.6"/>
<path d="M287.3 1255.71L294.2 1262.61L287.3 1269.51L280.4 1262.61Z" fill="#000000" stroke="#000000" stroke-width="0.6"/>
<path d="M293.35 1255.97L300.25 1262.87L293.35 1269.77L286.45 1262.87Z" fill="#000000" stroke="#000000" stroke-width="0.6"/>
<path d="M299.4 1256.88L306.3 1263.78L299.4 1270.68L292.5 1263.78Z" fill="#000000" stroke="#000000" stroke-width="0.6"/>
<path d="M305.45 1257.38L312.35 1264.28L305.45 1271.18L298.55 1264.28Z" fill="#000000" stroke="#000000" stroke-width="0.6"/>
<path d="M311.5 1257.75L318.4 1264.65L311.5 1271.55L304.6 1264.65Z" fill="#000000" stroke="#000000" stroke-width="0.6"/>
<path d="M331.67 1261.5L338.57 1268.4L331.67 1275.3L324.77 1268.4Z" fill="#000000" stroke="#000000" stroke-width="0.6"/>
<path d="M351.84 1261.5L358.74 1268.4L351.84 1275.3L344.94 1268.4Z" fill="#000000" stroke="#000000" stroke-width="0.6"/>
<path d="M372.01 1261.5L378.91 1268.4L372.01 1275.3L365.11 1268.4Z" fill="#000000" stroke="#000000" stroke-width="0.6"/>
<path d="M392.18 1261.5L399.08 1268.4L392.18 1275.3L385.28 1268.4Z" fill="#000000" stroke="#000000" stroke-width="0.6"/>
<path d="M412.35 1261.5L419.25 1268.4L412.35 1275.3L405.45 1268.4Z" fill="#000000" stroke="#000000" stroke-width="0.6"/>
<path d="M432.52 1261.5L439.42 1268.4L432.52 1275.3L425.62 1268.4Z" fill="#000000" stroke="#000000" stroke-width="0.6"/>
<path d="M452.69 1261.5L459.59 1268.4L452.69 1275.3L445.79 1268.4Z" fill="#000000" stroke="#000000" stroke-width="0.6"/>
<path d="M472.86 1261.5L479.76 1268.4L472.86 1275.3L465.96 1268.4Z" fill="#000000" stroke="#000000" stroke-width="0.6"/>
<path d="M493.03 1261.5L499.93 1268.4L493.03 1275.3L486.13 1268.4Z" fill="#000000" stroke="#000000" stroke-width="0.6"/>
<path d="M513.2 1261.5L520.1 1268.4L513.2 1275.3L506.3 1268.4Z" fill="#000000" stroke="#000000" stroke-width="0.6"/>
<path d="M533.37 1261.5L540.27 1268.4L533.37 1275.3L526.47 1268.4Z" fill="#000000" stroke="#000000" stroke-width="0.6"/>
<path d="M553.54 1261.5L560.44 1268.4L553.54 1275.3L546.64 1268.4Z" fill="#000000" stroke="#000000" stroke-width="0.6"/>
<path d="M573.71 1261.5L580.61 1268.4L573.71 1275.3L566.81 1268.4Z" fill="#000000" stroke="#000000" stroke-width="0.6"/>
<path d="M593.88 1261.5L600.78 1268.4L593.88 1275.3L586.98 1268.4Z" fill="#000000" stroke="#000000" stroke-width="0.6"/>
<path d="M614.05 1261.5L620.95 1268.4L614.05 1275.3L607.15 1268.4Z" fill="#000000" stroke="#000000" stroke-width="0.6"/>
<path d="M634.22 1261.5L641.12 1268.4L634.22 1275.3L627.32 1268.4Z" fill="#000000" stroke="#000000" stroke-width="0.6"/>
<path d="M654.39 1261.5L661.29 1268.4L654.39 1275.3L647.49 1268.4Z" fill="#000000" stroke="#000000" stroke-width="0.6"/>
<path d="M674.56 1261.5L681.46 1268.4L674.56 1275.3L667.66 1268.4Z" fill="#000000" stroke="#000000" stroke-width="0.6"/>
<path d="M694.73 1261.5L701.63 1268.4L694.73 1275.3L687.83 1268.4Z" fill="#000000" stroke="#000000" stroke-width="0.6"/>
<path d="M714.9 1261.5L721.8 1268.4L714.9 1275.3L708 1268.4Z" fill="#000000" stroke="#000000" stroke-width="0.6"/>
<path d="M735.07 1261.5L741.97 1268.4L735.07 1275.3L728.17 1268.4Z" fill="#000000" stroke="#000000" stroke-width="0.6"/>
<path d="M755.24 1261.5L762.14 1268.4L755.24 1275.3L748.34 1268.4Z" fill="#000000" stroke="#000000" stroke-width="0.6"/>
<path d="M775.41 1261.5L782.31 1268.4L775.41 1275.3L768.51 1268.4Z" fill="#000000" stroke="#000000" stroke-width="0.6"/>
<path d="M795.58 1261.5L802.48 1268.4L795.58 1275.3L788.68 1268.4Z" fill="#000000" stroke="#000000" stroke-width="0.6"/>
<path d="M815.75 1261.5L822.65 1268.4L815.75 1275.3L808.85 1268.4Z" fill="#000000" stroke="#000000" stroke-width="0.6"/>
<path d="M835.92 1261.5L842.82 1268.4L835.92 1275.3L829.02 1268.4Z" fill="#000000" stroke="#000000" stroke-width="0.6"/>
<path d="M856.09 1261.5L862.99 1268.4L856.09 1275.3L849.19 1268.4Z" fill="#000000" stroke="#000000" stroke-width="0.6"/>
<path d="M876.26 1261.5L883.16 1268.4L876.26 1275.3L869.36 1268.4Z" fill="#000000" stroke="#000000" stroke-width="0.6"/>
<path d="M896.43 1261.5L903.33 1268.4L896.43 1275.3L889.53 1268.4Z" fill="#000000" stroke="#000000" stroke-width="0.6"/>
<path d="M916.6 1261.5L923.5 1268.4L916.6 1275.3L909.7 1268.4Z" fill="#000000" stroke="#000000" stroke-width="0.6"/>
<polyline points="111.82,1268.34 112.28,1268.22 112.75,1268.06 113.21,1267.84 113.68,1267.56 114.14,1267.22 114.61,1266.81 115.08,1266.35 115.54,1265.83 116.01,1265.27 116.47,1264.67 116.94,1264.04 117.4,1263.39 117.87,1262.73 118.33,1262.06 118.8,1261.4 119.26,1260.74 119.73,1260.09 120.2,1259.45 120.66,1258.82 121.13,1258.2 121.59,1257.58 122.06,1256.97 122.52,1256.37 122.99,1255.76 123.45,1255.15 123.92,1254.55 124.38,1253.94 124.85,1253.33 125.32,1252.74 125.78,1252.16 126.25,1251.61 126.71,1251.09 127.18,1250.58 127.64,1250.08 128.11,1249.59 128.57,1249.11 129.04,1248.63 129.5,1248.14 129.97,1247.66 130.37,1247.23 131.95,1245.59 133.52,1244.05 135.1,1242.66 136.68,1241.41 138.25,1240.28 139.83,1239.22 141.4,1238.24 142.98,1237.34 144.55,1236.51 146.13,1235.74 147.71,1235.05 149.28,1234.43 150.86,1233.87 152.43,1233.39 154.01,1232.97 155.58,1232.62 157.16,1232.34 158.73,1232.13 160.31,1231.98 161.89,1231.89 163.46,1231.86 165.04,1231.89 166.61,1231.98 168.19,1232.12 169.76,1232.32 171.34,1232.58 172.91,1232.88 174.49,1233.23 176.07,1233.62 177.64,1234.04 179.22,1234.49 180.79,1234.97 182.37,1235.46 183.94,1235.97 185.52,1236.49 187.1,1237.01 188.67,1237.53 190.25,1238.05 191.82,1238.54 193.4,1239.02 194.97,1239.48 196.55,1239.95 198.12,1240.41 199.7,1240.87 201.28,1241.35 202.85,1241.82 204.43,1242.31 206,1242.8 207.58,1243.3 209.15,1243.81 210.73,1244.32 212.3,1244.84 213.88,1245.38 215.46,1245.92 217.03,1246.48 218.61,1247.05 220.18,1247.63 221.76,1248.21 223.33,1248.8 224.91,1249.39 226.49,1249.96 228.06,1250.53 229.64,1251.08 231.21,1251.61 232.79,1252.12 234.36,1252.61 235.94,1253.08 237.51,1253.52 239.09,1253.94 240.67,1254.34 242.24,1254.72 243.82,1255.07 245.39,1255.42 246.97,1255.75 248.54,1256.07 250.12,1256.39 251.69,1256.71 253.27,1257.02 254.85,1257.33 256.42,1257.64 258,1257.94 259.57,1258.24 261.15,1258.54 262.72,1258.83 264.3,1259.11 265.88,1259.39 267.45,1259.66 269.03,1259.92 270.6,1260.17 272.18,1260.41 273.75,1260.65 275.33,1260.88 276.9,1261.11 278.48,1261.34 280.06,1261.55 281.63,1261.76 283.21,1261.96 284.78,1262.15 286.36,1262.33 287.93,1262.5 289.51,1262.66 291.09,1262.82 292.66,1262.97 294.24,1263.12 295.81,1263.28 297.39,1263.44 298.96,1263.6 300.54,1263.76 302.11,1263.92 303.69,1264.09 305.27,1264.27 306.84,1264.46 308.42,1264.66 309.99,1264.87 311.57,1265.1 313.14,1265.34 314.72,1265.58 316.29,1265.84 317.87,1266.09 319.45,1266.35 321.02,1266.59 322.6,1266.83 324.17,1267.06 325.75,1267.27 327.32,1267.46 328.9,1267.64 330.48,1267.8 332.05,1267.93 333.63,1268.05 335.2,1268.14 336.78,1268.22 338.35,1268.29 339.93,1268.34 341.5,1268.39 343.08,1268.4 344.66,1268.4 346.23,1268.4 347.81,1268.4 349.38,1268.4 350.96,1268.4 352.53,1268.4 354.11,1268.4 355.68,1268.4 357.26,1268.4 358.84,1268.4 360.41,1268.4 361.99,1268.4 363.56,1268.4 365.14,1268.4 366.71,1268.4 368.29,1268.4 369.87,1268.4 371.44,1268.4 373.02,1268.4 374.59,1268.4 376.17,1268.4 377.74,1268.4 379.32,1268.4 380.89,1268.4 382.47,1268.4 384.05,1268.4 385.62,1268.4 387.2,1268.4 388.77,1268.4 390.35,1268.4 391.92,1268.4 393.5,1268.4 395.07,1268.4 396.65,1268.4 398.23,1268.4 399.8,1268.4 401.38,1268.4 402.95,1268.4 404.53,1268.4 406.1,1268.4 407.68,1268.4 409.26,1268.4 410.83,1268.4 412.41,1268.4 413.98,1268.4 415.56,1268.4 417.13,1268.4 418.71,1268.4 420.28,1268.4 421.86,1268.4 423.44,1268.4 425.01,1268.4 426.59,1268.4 428.16,1268.4 429.74,1268.4 431.31,1268.4 432.89,1268.4 434.47,1268.4 436.04,1268.4 437.62,1268.4 439.19,1268.4 440.77,1268.4 442.34,1268.4 443.92,1268.4 445.49,1268.4 447.07,1268.4 448.65,1268.4 450.22,1268.4 451.8,1268.4 453.37,1268.4 454.95,1268.4 456.52,1268.4 458.1,1268.4 459.67,1268.4 461.25,1268.4 462.83,1268.4 464.4,1268.4 465.98,1268.4 467.55,1268.4 469.13,1268.4 470.7,1268.4 472.28,1268.4 473.86,1268.4 475.43,1268.4 477.01,1268.4 478.58,1268.4 480.16,1268.4 481.73,1268.4 483.31,1268.4 484.88,1268.4 486.46,1268.4 488.04,1268.4 489.61,1268.4 491.19,1268.4 492.76,1268.4 494.34,1268.4 495.91,1268.4 497.49,1268.4 499.06,1268.4 500.64,1268.4 502.22,1268.4 503.79,1268.4 505.37,1268.4 506.94,1268.4 508.52,1268.4 510.09,1268.4 511.67,1268.4 513.25,1268.4 514.82,1268.4 516.4,1268.4 517.97,1268.4 519.55,1268.4 521.12,1268.4 522.7,1268.4 524.27,1268.4 525.85,1268.4 527.43,1268.4 529,1268.4 530.58,1268.4 532.15,1268.4 533.73,1268.4 535.3,1268.4 536.88,1268.4 538.45,1268.4 540.03,1268.4 541.61,1268.4 543.18,1268.4 544.76,1268.4 546.33,1268.4 547.91,1268.4 549.48,1268.4 551.06,1268.4 552.64,1268.4 554.21,1268.4 555.79,1268.4 557.36,1268.4 558.94,1268.4 560.51,1268.4 562.09,1268.4 563.66,1268.4 565.24,1268.4 566.82,1268.4 568.39,1268.4 569.97,1268.4 571.54,1268.4 573.12,1268.4 574.69,1268.4 576.27,1268.4 577.85,1268.4 579.42,1268.4 581,1268.4 582.57,1268.4 584.15,1268.4 585.72,1268.4 587.3,1268.4 588.87,1268.4 590.45,1268.4 592.03,1268.4 593.6,1268.4 595.18,1268.4 596.75,1268.4 598.33,1268.4 599.9,1268.4 601.48,1268.4 603.05,1268.4 604.63,1268.4 606.21,1268.4 607.78,1268.4 609.36,1268.4 610.93,1268.4 612.51,1268.4 614.08,1268.4 615.66,1268.4 617.24,1268.4 618.81,1268.4 620.39,1268.4 621.96,1268.4 623.54,1268.4 625.11,1268.4 626.69,1268.4 628.26,1268.4 629.84,1268.4 631.42,1268.4 632.99,1268.4 634.57,1268.4 636.14,1268.4 637.72,1268.4 639.29,1268.4 640.87,1268.4 642.44,1268.4 644.02,1268.4 645.6,1268.4 647.17,1268.4 648.75,1268.4 650.32,1268.4 651.9,1268.4 653.47,1268.4 655.05,1268.4 656.63,1268.4 658.2,1268.4 659.78,1268.4 661.35,1268.4 662.93,1268.4 664.5,1268.4 666.08,1268.4 667.65,1268.4 669.23,1268.4 670.81,1268.4 672.38,1268.4 673.96,1268.4 675.53,1268.4 677.11,1268.4 678.68,1268.4 680.26,1268.4 681.83,1268.4 683.41,1268.4 684.99,1268.4 686.56,1268.4 688.14,1268.4 689.71,1268.4 691.29,1268.4 692.86,1268.4 694.44,1268.4 696.02,1268.4 697.59,1268.4 699.17,1268.4 700.74,1268.4 702.32,1268.4 703.89,1268.4 705.47,1268.4 707.04,1268.4 708.62,1268.4 710.2,1268.4 711.77,1268.4 713.35,1268.4 714.92,1268.4 716.5,1268.4 718.07,1268.4 719.65,1268.4 721.23,1268.4 722.8,1268.4 724.38,1268.4 725.95,1268.4 727.53,1268.4 729.1,1268.4 730.68,1268.4 732.25,1268.4 733.83,1268.4 735.41,1268.4 736.98,1268.4 738.56,1268.4 740.13,1268.4 741.71,1268.4 743.28,1268.4 744.86,1268.4 746.43,1268.4 748.01,1268.4 749.59,1268.4 751.16,1268.4 752.74,1268.4 754.31,1268.4 755.89,1268.4 757.46,1268.4 759.04,1268.4 760.62,1268.4 762.19,1268.4 763.77,1268.4 765.34,1268.4 766.92,1268.4 768.49,1268.4 770.07,1268.4 771.64,1268.4 773.22,1268.4 774.8,1268.4 776.37,1268.4 777.95,1268.4 779.52,1268.4 781.1,1268.4 782.67,1268.4 784.25,1268.4 785.82,1268.4 787.4,1268.4 788.98,1268.4 790.55,1268.4 792.13,1268.4 793.7,1268.4 795.28,1268.4 796.85,1268.4 798.43,1268.4 800.01,1268.4 801.58,1268.4 803.16,1268.4 804.73,1268.4 806.31,1268.4 807.88,1268.4 809.46,1268.4 811.03,1268.4 812.61,1268.4 814.19,1268.4 815.76,1268.4 817.34,1268.4 818.91,1268.4 820.49,1268.4 822.06,1268.4 823.64,1268.4 825.21,1268.4 826.79,1268.4 828.37,1268.4 829.94,1268.4 831.52,1268.4 833.09,1268.4 834.67,1268.4 836.24,1268.4 837.82,1268.4 839.4,1268.4 840.97,1268.4 842.55,1268.4 844.12,1268.4 845.7,1268.4 847.27,1268.4 848.85,1268.4 850.42,1268.4 852,1268.4 853.58,1268.4 855.15,1268.4 856.73,1268.4 858.3,1268.4 859.88,1268.4 861.45,1268.4 863.03,1268.4 864.61,1268.4 866.18,1268.4 867.76,1268.4 869.33,1268.4 870.91,1268.4 872.48,1268.4 874.06,1268.4 875.63,1268.4 877.21,1268.4 878.79,1268.4 880.36,1268.4 881.94,1268.4 883.51,1268.4 885.09,1268.4 886.66,1268.4 888.24,1268.4 889.81,1268.4 891.39,1268.4 892.97,1268.4 894.54,1268.4 896.12,1268.4 897.69,1268.4 899.27,1268.4 900.84,1268.4 902.42,1268.4 904,1268.4 905.57,1268.4 907.15,1268.4 908.72,1268.4 910.3,1268.4 911.87,1268.4 913.45,1268.4 915.02,1268.4 916.6,1268.4" fill="none" stroke="#000" stroke-width="1.2"/>
<path d="M109.8 1261.5L116.7 1268.4L109.8 1275.3L102.9 1268.4Z" fill="#0000ff" stroke="#0000ff" stroke-width="0.6"/>
<path d="M111.82 1261.5L118.72 1268.4L111.82 1275.3L104.92 1268.4Z" fill="#0000ff" stroke="#0000ff" stroke-width="0.6"/>
<path d="M113.83 1261.38L120.73 1268.28L113.83 1275.18L106.93 1268.28Z" fill="#0000ff" stroke="#0000ff" stroke-width="0.6"/>
<path d="M115.85 1260.43L122.75 1267.33L115.85 1274.23L108.95 1267.33Z" fill="#0000ff" stroke="#0000ff" stroke-width="0.6"/>
<path d="M117.87 1258.21L124.77 1265.11L117.87 1272.01L110.97 1265.11Z" fill="#0000ff" stroke="#0000ff" stroke-width="0.6"/>
<path d="M119.88 1255.08L126.78 1261.98L119.88 1268.88L112.98 1261.98Z" fill="#0000ff" stroke="#0000ff" stroke-width="0.6"/>
<path d="M121.9 1251.55L128.8 1258.45L121.9 1265.35L115 1258.45Z" fill="#0000ff" stroke="#0000ff" stroke-width="0.6"/>
<path d="M123.92 1247.67L130.82 1254.57L123.92 1261.47L117.02 1254.57Z" fill="#0000ff" stroke="#0000ff" stroke-width="0.6"/>
<path d="M125.94 1243.96L132.84 1250.86L125.94 1257.76L119.04 1250.86Z" fill="#0000ff" stroke="#0000ff" stroke-width="0.6"/>
<path d="M127.95 1240.37L134.85 1247.27L127.95 1254.17L121.05 1247.27Z" fill="#0000ff" stroke="#0000ff" stroke-width="0.6"/>
<path d="M129.97 1236.94L136.87 1243.84L129.97 1250.74L123.07 1243.84Z" fill="#0000ff" stroke="#0000ff" stroke-width="0.6"/>
<path d="M136.02 1227.23L142.92 1234.13L136.02 1241.03L129.12 1234.13Z" fill="#0000ff" stroke="#0000ff" stroke-width="0.6"/>
<path d="M142.07 1218.06L148.97 1224.96L142.07 1231.86L135.17 1224.96Z" fill="#0000ff" stroke="#0000ff" stroke-width="0.6"/>
<path d="M148.12 1209.52L155.02 1216.42L148.12 1223.32L141.22 1216.42Z" fill="#0000ff" stroke="#0000ff" stroke-width="0.6"/>
<path d="M154.17 1201.3L161.07 1208.2L154.17 1215.1L147.27 1208.2Z" fill="#0000ff" stroke="#0000ff" stroke-width="0.6"/>
<path d="M160.22 1193.51L167.12 1200.41L160.22 1207.31L153.32 1200.41Z" fill="#0000ff" stroke="#0000ff" stroke-width="0.6"/>
<path d="M166.28 1186.28L173.18 1193.18L166.28 1200.08L159.38 1193.18Z" fill="#0000ff" stroke="#0000ff" stroke-width="0.6"/>
<path d="M172.33 1179.26L179.23 1186.16L172.33 1193.06L165.43 1186.16Z" fill="#0000ff" stroke="#0000ff" stroke-width="0.6"/>
<path d="M178.38 1173.14L185.28 1180.04L178.38 1186.94L171.48 1180.04Z" fill="#0000ff" stroke="#0000ff" stroke-width="0.6"/>
<path d="M184.43 1167.25L191.33 1174.15L184.43 1181.05L177.53 1174.15Z" fill="#0000ff" stroke="#0000ff" stroke-width="0.6"/>
<path d="M190.48 1161.97L197.38 1168.87L190.48 1175.77L183.58 1168.87Z" fill="#0000ff" stroke="#0000ff" stroke-width="0.6"/>
<path d="M196.53 1157.73L203.43 1164.63L196.53 1171.53L189.63 1164.63Z" fill="#0000ff" stroke="#0000ff" stroke-width="0.6"/>
<path d="M202.58 1153.87L209.48 1160.77L202.58 1167.67L195.68 1160.77Z" fill="#0000ff" stroke="#0000ff" stroke-width="0.6"/>
<path d="M208.63 1151.34L215.53 1158.24L208.63 1165.14L201.73 1158.24Z" fill="#0000ff" stroke="#0000ff" stroke-width="0.6"/>
<path d="M214.68 1148.23L221.58 1155.13L214.68 1162.03L207.78 1155.13Z" fill="#0000ff" stroke="#0000ff" stroke-width="0.6"/>
<path d="M220.74 1145.73L227.64 1152.63L220.74 1159.53L213.84 1152.63Z" fill="#0000ff" stroke="#0000ff" stroke-width="0.6"/>
<path d="M226.79 1144.44L233.69 1151.34L226.79 1158.24L219.89 1151.34Z" fill="#0000ff" stroke="#0000ff" stroke-width="0.6"/>
<path d="M232.84 1143.41L239.74 1150.31L232.84 1157.21L225.94 1150.31Z" fill="#0000ff" stroke="#0000ff" stroke-width="0.6"/>
<path d="M238.89 1143.63L245.79 1150.53L238.89 1157.43L231.99 1150.53Z" fill="#0000ff" stroke="#0000ff" stroke-width="0.6"/>
<path d="M244.94 1143.63L251.84 1150.53L244.94 1157.43L238.04 1150.53Z" fill="#0000ff" stroke="#0000ff" stroke-width="0.6"/>
<path d="M250.99 1144.94L257.89 1151.84L250.99 1158.74L244.09 1151.84Z" fill="#0000ff" stroke="#0000ff" stroke-width="0.6"/>
<path d="M257.04 1148.03L263.94 1154.93L257.04 1161.83L250.14 1154.93Z" fill="#0000ff" stroke="#0000ff" stroke-width="0.6"/>
<path d="M263.09 1149.26L269.99 1156.16L263.09 1163.06L256.19 1156.16Z" fill="#0000ff" stroke="#0000ff" stroke-width="0.6"/>
<path d="M269.14 1151.34L276.04 1158.24L269.14 1165.14L262.24 1158.24Z" fill="#0000ff" stroke="#0000ff" stroke-width="0.6"/>
<path d="M275.19 1152.35L282.09 1159.25L275.19 1166.15L268.29 1159.25Z" fill="#0000ff" stroke="#0000ff" stroke-width="0.6"/>
<path d="M281.25 1155.51L288.14 1162.41L281.25 1169.31L274.35 1162.41Z" fill="#0000ff" stroke="#0000ff" stroke-width="0.6"/>
<path d="M287.3 1159.02L294.2 1165.92L287.3 1172.82L280.4 1165.92Z" fill="#0000ff" stroke="#0000ff" stroke-width="0.6"/>
<path d="M293.35 1162.43L300.25 1169.33L293.35 1176.23L286.45 1169.33Z" fill="#0000ff" stroke="#0000ff" stroke-width="0.6"/>
<path d="M299.4 1165.74L306.3 1172.64L299.4 1179.54L292.5 1172.64Z" fill="#0000ff" stroke="#0000ff" stroke-width="0.6"/>
<path d="M305.45 1167.93L312.35 1174.83L305.45 1181.73L298.55 1174.83Z" fill="#0000ff" stroke="#0000ff" stroke-width="0.6"/>
<path d="M311.5 1171.37L318.4 1178.27L311.5 1185.17L304.6 1178.27Z" fill="#0000ff" stroke="#0000ff" stroke-width="0.6"/>
<path d="M331.67 1182.1L338.57 1189L331.67 1195.9L324.77 1189Z" fill="#0000ff" stroke="#0000ff" stroke-width="0.6"/>
<path d="M351.84 1191.9L358.74 1198.8L351.84 1205.7L344.94 1198.8Z" fill="#0000ff" stroke="#0000ff" stroke-width="0.6"/>
<path d="M372.01 1203.9L378.91 1210.8L372.01 1217.7L365.11 1210.8Z" fill="#0000ff" stroke="#0000ff" stroke-width="0.6"/>
<path d="M392.18 1211.4L399.08 1218.3L392.18 1225.2L385.28 1218.3Z" fill="#0000ff" stroke="#0000ff" stroke-width="0.6"/>
<path d="M412.35 1221.7L419.25 1228.6L412.35 1235.5L405.45 1228.6Z" fill="#0000ff" stroke="#0000ff" stroke-width="0.6"/>
<path d="M432.52 1228.9L439.42 1235.8L432.52 1242.7L425.62 1235.8Z" fill="#0000ff" stroke="#0000ff" stroke-width="0.6"/>
<path d="M452.69 1233.7L459.59 1240.6L452.69 1247.5L445.79 1240.6Z" fill="#0000ff" stroke="#0000ff" stroke-width="0.6"/>
<path d="M472.86 1238.4L479.76 1245.3L472.86 1252.2L465.96 1245.3Z" fill="#0000ff" stroke="#0000ff" stroke-width="0.6"/>
<path d="M493.03 1243.4L499.93 1250.3L493.03 1257.2L486.13 1250.3Z" fill="#0000ff" stroke="#0000ff" stroke-width="0.6"/>
<path d="M513.2 1246.2L520.1 1253.1L513.2 1260L506.3 1253.1Z" fill="#0000ff" stroke="#0000ff" stroke-width="0.6"/>
<path d="M533.37 1248.4L540.27 1255.3L533.37 1262.2L526.47 1255.3Z" fill="#0000ff" stroke="#0000ff" stroke-width="0.6"/>
<path d="M553.54 1251.8L560.44 1258.7L553.54 1265.6L546.64 1258.7Z" fill="#0000ff" stroke="#0000ff" stroke-width="0.6"/>
<path d="M573.71 1253.2L580.61 1260.1L573.71 1267L566.81 1260.1Z" fill="#0000ff" stroke="#0000ff" stroke-width="0.6"/>
<path d="M593.88 1254.6L600.78 1261.5L593.88 1268.4L586.98 1261.5Z" fill="#0000ff" stroke="#0000ff" stroke-width="0.6"/>
<path d="M614.05 1255.9L620.95 1262.8L614.05 1269.7L607.15 1262.8Z" fill="#0000ff" stroke="#0000ff" stroke-width="0.6"/>
<path d="M634.22 1257.3L641.12 1264.2L634.22 1271.1L627.32 1264.2Z" fill="#0000ff" stroke="#0000ff" stroke-width="0.6"/>
<path d="M654.39 1257.9L661.29 1264.8L654.39 1271.7L647.49 1264.8Z" fill="#0000ff" stroke="#0000ff" stroke-width="0.6"/>
<path d="M674.56 1258.1L681.46 1265L674.56 1271.9L667.66 1265Z" fill="#0000ff" stroke="#0000ff" stroke-width="0.6"/>
<path d="M694.73 1258.7L701.63 1265.6L694.73 1272.5L687.83 1265.6Z" fill="#0000ff" stroke="#0000ff" stroke-width="0.6"/>
<path d="M714.9 1259.3L721.8 1266.2L714.9 1273.1L708 1266.2Z" fill="#0000ff" stroke="#0000ff" stroke-width="0.6"/>
<path d="M735.07 1259.6L741.97 1266.5L735.07 1273.4L728.17 1266.5Z" fill="#0000ff" stroke="#0000ff" stroke-width="0.6"/>
<path d="M755.24 1260.1L762.14 1267L755.24 1273.9L748.34 1267Z" fill="#0000ff" stroke="#0000ff" stroke-width="0.6"/>
<path d="M775.41 1260.1L782.31 1267L775.41 1273.9L768.51 1267Z" fill="#0000ff" stroke="#0000ff" stroke-width="0.6"/>
<path d="M795.58 1260.1L802.48 1267L795.58 1273.9L788.68 1267Z" fill="#0000ff" stroke="#0000ff" stroke-width="0.6"/>
<path d="M815.75 1260.1L822.65 1267L815.75 1273.9L808.85 1267Z" fill="#0000ff" stroke="#0000ff" stroke-width="0.6"/>
<path d="M835.92 1260.1L842.82 1267L835.92 1273.9L829.02 1267Z" fill="#0000ff" stroke="#0000ff" stroke-width="0.6"/>
<path d="M856.09 1260.1L862.99 1267L856.09 1273.9L849.19 1267Z" fill="#0000ff" stroke="#0000ff" stroke-width="0.6"/>
<path d="M876.26 1260.1L883.16 1267L876.26 1273.9L869.36 1267Z" fill="#0000ff" stroke="#0000ff" stroke-width="0.6"/>
<path d="M896.43 1260.1L903.33 1267L896.43 1273.9L889.53 1267Z" fill="#0000ff" stroke="#0000ff" stroke-width="0.6"/>
<path d="M916.6 1260.1L923.5 1267L916.6 1273.9L909.7 1267Z" fill="#0000ff" stroke="#0000ff" stroke-width="0.6"/>
<polyline points="111.82,1268.4 112.28,1268.4 112.75,1268.4 113.21,1268.36 113.68,1268.26 114.14,1268.11 114.61,1267.92 115.08,1267.68 115.54,1267.39 116.01,1267.04 116.47,1266.62 116.94,1266.15 117.4,1265.62 117.87,1265.04 118.33,1264.41 118.8,1263.74 119.26,1263.02 119.73,1262.27 120.2,1261.49 120.66,1260.69 121.13,1259.86 121.59,1259.02 122.06,1258.16 122.52,1257.29 122.99,1256.41 123.45,1255.54 123.92,1254.66 124.38,1253.79 124.85,1252.93 125.32,1252.07 125.78,1251.23 126.25,1250.39 126.71,1249.56 127.18,1248.74 127.64,1247.92 128.11,1247.11 128.57,1246.29 129.04,1245.48 129.5,1244.65 129.97,1243.83 130.37,1243.11 131.95,1240.27 133.52,1237.52 135.1,1234.97 136.68,1232.62 138.25,1230.4 139.83,1228.24 141.4,1226.1 142.98,1223.96 144.55,1221.81 146.13,1219.66 147.71,1217.5 149.28,1215.33 150.86,1213.17 152.43,1211.02 154.01,1208.89 155.58,1206.78 157.16,1204.69 158.73,1202.63 160.31,1200.6 161.89,1198.6 163.46,1196.64 165.04,1194.71 166.61,1192.82 168.19,1190.97 169.76,1189.15 171.34,1187.37 172.91,1185.63 174.49,1183.94 176.07,1182.28 177.64,1180.67 179.22,1179.09 180.79,1177.56 182.37,1176.07 183.94,1174.63 185.52,1173.22 187.1,1171.86 188.67,1170.55 190.25,1169.28 191.82,1168.06 193.4,1166.89 194.97,1165.76 196.55,1164.67 198.12,1163.63 199.7,1162.63 201.28,1161.67 202.85,1160.75 204.43,1159.87 206,1159.03 207.58,1158.23 209.15,1157.45 210.73,1156.71 212.3,1156 213.88,1155.33 215.46,1154.7 217.03,1154.1 218.61,1153.54 220.18,1153.02 221.76,1152.55 223.33,1152.13 224.91,1151.74 226.49,1151.41 228.06,1151.12 229.64,1150.88 231.21,1150.69 232.79,1150.54 234.36,1150.45 235.94,1150.4 237.51,1150.41 239.09,1150.46 240.67,1150.55 242.24,1150.69 243.82,1150.88 245.39,1151.11 246.97,1151.39 248.54,1151.71 250.12,1152.06 251.69,1152.45 253.27,1152.87 254.85,1153.31 256.42,1153.77 258,1154.25 259.57,1154.73 261.15,1155.22 262.72,1155.72 264.3,1156.23 265.88,1156.75 267.45,1157.28 269.03,1157.83 270.6,1158.39 272.18,1158.97 273.75,1159.57 275.33,1160.2 276.9,1160.86 278.48,1161.54 280.06,1162.25 281.63,1162.99 283.21,1163.74 284.78,1164.52 286.36,1165.31 287.93,1166.11 289.51,1166.91 291.09,1167.73 292.66,1168.54 294.24,1169.35 295.81,1170.16 297.39,1170.97 298.96,1171.77 300.54,1172.57 302.11,1173.37 303.69,1174.16 305.27,1174.95 306.84,1175.75 308.42,1176.55 309.99,1177.36 311.57,1178.17 313.14,1178.99 314.72,1179.81 316.29,1180.65 317.87,1181.48 319.45,1182.33 321.02,1183.19 322.6,1184.05 324.17,1184.92 325.75,1185.8 327.32,1186.68 328.9,1187.57 330.48,1188.46 332.05,1189.36 333.63,1190.25 335.2,1191.15 336.78,1192.05 338.35,1192.95 339.93,1193.85 341.5,1194.74 343.08,1195.63 344.66,1196.51 346.23,1197.39 347.81,1198.26 349.38,1199.12 350.96,1199.98 352.53,1200.83 354.11,1201.67 355.68,1202.5 357.26,1203.33 358.84,1204.14 360.41,1204.95 361.99,1205.74 363.56,1206.52 365.14,1207.3 366.71,1208.06 368.29,1208.82 369.87,1209.56 371.44,1210.3 373.02,1211.03 374.59,1211.75 376.17,1212.47 377.74,1213.17 379.32,1213.87 380.89,1214.57 382.47,1215.25 384.05,1215.94 385.62,1216.61 387.2,1217.29 388.77,1217.95 390.35,1218.62 391.92,1219.28 393.5,1219.93 395.07,1220.58 396.65,1221.23 398.23,1221.87 399.8,1222.51 401.38,1223.14 402.95,1223.77 404.53,1224.4 406.1,1225.01 407.68,1225.63 409.26,1226.24 410.83,1226.84 412.41,1227.44 413.98,1228.03 415.56,1228.61 417.13,1229.19 418.71,1229.77 420.28,1230.33 421.86,1230.9 423.44,1231.45 425.01,1232 426.59,1232.54 428.16,1233.08 429.74,1233.61 431.31,1234.13 432.89,1234.64 434.47,1235.15 436.04,1235.65 437.62,1236.15 439.19,1236.63 440.77,1237.12 442.34,1237.59 443.92,1238.06 445.49,1238.52 447.07,1238.98 448.65,1239.43 450.22,1239.87 451.8,1240.31 453.37,1240.74 454.95,1241.16 456.52,1241.58 458.1,1241.99 459.67,1242.4 461.25,1242.8 462.83,1243.2 464.4,1243.59 465.98,1243.97 467.55,1244.35 469.13,1244.73 470.7,1245.1 472.28,1245.46 473.86,1245.82 475.43,1246.17 477.01,1246.52 478.58,1246.86 480.16,1247.2 481.73,1247.54 483.31,1247.86 484.88,1248.19 486.46,1248.5 488.04,1248.82 489.61,1249.12 491.19,1249.43 492.76,1249.72 494.34,1250.02 495.91,1250.3 497.49,1250.59 499.06,1250.87 500.64,1251.14 502.22,1251.41 503.79,1251.67 505.37,1251.93 506.94,1252.19 508.52,1252.44 510.09,1252.69 511.67,1252.94 513.25,1253.18 514.82,1253.41 516.4,1253.65 517.97,1253.88 519.55,1254.1 521.12,1254.32 522.7,1254.54 524.27,1254.76 525.85,1254.97 527.43,1255.18 529,1255.39 530.58,1255.6 532.15,1255.8 533.73,1256 535.3,1256.19 536.88,1256.39 538.45,1256.58 540.03,1256.77 541.61,1256.95 543.18,1257.14 544.76,1257.32 546.33,1257.5 547.91,1257.67 549.48,1257.84 551.06,1258.01 552.64,1258.18 554.21,1258.34 555.79,1258.5 557.36,1258.66 558.94,1258.82 560.51,1258.97 562.09,1259.12 563.66,1259.27 565.24,1259.42 566.82,1259.56 568.39,1259.7 569.97,1259.84 571.54,1259.97 573.12,1260.11 574.69,1260.24 576.27,1260.37 577.85,1260.5 579.42,1260.62 581,1260.74 582.57,1260.87 584.15,1260.99 585.72,1261.1 587.3,1261.22 588.87,1261.33 590.45,1261.44 592.03,1261.55 593.6,1261.66 595.18,1261.77 596.75,1261.88 598.33,1261.98 599.9,1262.08 601.48,1262.18 603.05,1262.28 604.63,1262.38 606.21,1262.47 607.78,1262.57 609.36,1262.66 610.93,1262.75 612.51,1262.84 614.08,1262.93 615.66,1263.02 617.24,1263.1 618.81,1263.19 620.39,1263.27 621.96,1263.35 623.54,1263.43 625.11,1263.51 626.69,1263.59 628.26,1263.66 629.84,1263.73 631.42,1263.81 632.99,1263.88 634.57,1263.94 636.14,1264.01 637.72,1264.08 639.29,1264.14 640.87,1264.2 642.44,1264.26 644.02,1264.32 645.6,1264.38 647.17,1264.44 648.75,1264.49 650.32,1264.55 651.9,1264.6 653.47,1264.65 655.05,1264.7 656.63,1264.75 658.2,1264.8 659.78,1264.85 661.35,1264.9 662.93,1264.94 664.5,1264.99 666.08,1265.03 667.65,1265.08 669.23,1265.12 670.81,1265.16 672.38,1265.2 673.96,1265.24 675.53,1265.28 677.11,1265.32 678.68,1265.36 680.26,1265.4 681.83,1265.44 683.41,1265.48 684.99,1265.52 686.56,1265.56 688.14,1265.6 689.71,1265.63 691.29,1265.67 692.86,1265.71 694.44,1265.74 696.02,1265.78 697.59,1265.81 699.17,1265.85 700.74,1265.88 702.32,1265.92 703.89,1265.95 705.47,1265.99 707.04,1266.02 708.62,1266.05 710.2,1266.09 711.77,1266.12 713.35,1266.15 714.92,1266.18 716.5,1266.21 718.07,1266.24 719.65,1266.27 721.23,1266.3 722.8,1266.33 724.38,1266.36 725.95,1266.39 727.53,1266.42 729.1,1266.44 730.68,1266.47 732.25,1266.5 733.83,1266.52 735.41,1266.55 736.98,1266.57 738.56,1266.6 740.13,1266.62 741.71,1266.64 743.28,1266.66 744.86,1266.69 746.43,1266.71 748.01,1266.73 749.59,1266.75 751.16,1266.77 752.74,1266.78 754.31,1266.8 755.89,1266.82 757.46,1266.83 759.04,1266.85 760.62,1266.86 762.19,1266.88 763.77,1266.89 765.34,1266.9 766.92,1266.91 768.49,1266.93 770.07,1266.94 771.64,1266.95 773.22,1266.95 774.8,1266.96 776.37,1266.97 777.95,1266.98 779.52,1266.99 781.1,1266.99 782.67,1267 784.25,1267 785.82,1267.01 787.4,1267.01 788.98,1267.02 790.55,1267.02 792.13,1267.02 793.7,1267.03 795.28,1267.03 796.85,1267.03 798.43,1267.03 800.01,1267.04 801.58,1267.04 803.16,1267.04 804.73,1267.04 806.31,1267.04 807.88,1267.04 809.46,1267.04 811.03,1267.04 812.61,1267.04 814.19,1267.04 815.76,1267.04 817.34,1267.04 818.91,1267.04 820.49,1267.04 822.06,1267.04 823.64,1267.04 825.21,1267.04 826.79,1267.04 828.37,1267.04 829.94,1267.04 831.52,1267.04 833.09,1267.03 834.67,1267.03 836.24,1267.03 837.82,1267.03 839.4,1267.03 840.97,1267.03 842.55,1267.03 844.12,1267.03 845.7,1267.03 847.27,1267.02 848.85,1267.02 850.42,1267.02 852,1267.02 853.58,1267.02 855.15,1267.02 856.73,1267.02 858.3,1267.02 859.88,1267.02 861.45,1267.01 863.03,1267.01 864.61,1267.01 866.18,1267.01 867.76,1267.01 869.33,1267.01 870.91,1267.01 872.48,1267.01 874.06,1267.01 875.63,1267.01 877.21,1267.01 878.79,1267.01 880.36,1267.01 881.94,1267 883.51,1267 885.09,1267 886.66,1267 888.24,1267 889.81,1267 891.39,1267 892.97,1267 894.54,1267 896.12,1267 897.69,1267 899.27,1267 900.84,1267 902.42,1267 904,1267 905.57,1267 907.15,1267 908.72,1267 910.3,1267 911.87,1267 913.45,1266.99 915.02,1266.99 916.6,1266.99" fill="none" stroke="#0000ff" stroke-width="1.2"/>
<path d="M109.8 1261.5L116.7 1268.4L109.8 1275.3L102.9 1268.4Z" fill="#467d1e" stroke="#467d1e" stroke-width="0.6"/>
<path d="M111.82 1261.5L118.72 1268.4L111.82 1275.3L104.92 1268.4Z" fill="#467d1e" stroke="#467d1e" stroke-width="0.6"/>
<path d="M113.83 1261.49L120.73 1268.39L113.83 1275.29L106.93 1268.39Z" fill="#467d1e" stroke="#467d1e" stroke-width="0.6"/>
<path d="M115.85 1261.22L122.75 1268.12L115.85 1275.02L108.95 1268.12Z" fill="#467d1e" stroke="#467d1e" stroke-width="0.6"/>
<path d="M117.87 1260.16L124.77 1267.06L117.87 1273.96L110.97 1267.06Z" fill="#467d1e" stroke="#467d1e" stroke-width="0.6"/>
<path d="M119.88 1257.59L126.78 1264.49L119.88 1271.39L112.98 1264.49Z" fill="#467d1e" stroke="#467d1e" stroke-width="0.6"/>
<path d="M121.9 1254.88L128.8 1261.78L121.9 1268.68L115 1261.78Z" fill="#467d1e" stroke="#467d1e" stroke-width="0.6"/>
<path d="M123.92 1250.7L130.82 1257.6L123.92 1264.5L117.02 1257.6Z" fill="#467d1e" stroke="#467d1e" stroke-width="0.6"/>
<path d="M125.94 1246.67L132.84 1253.57L125.94 1260.47L119.04 1253.57Z" fill="#467d1e" stroke="#467d1e" stroke-width="0.6"/>
<path d="M127.95 1242.43L134.85 1249.33L127.95 1256.23L121.05 1249.33Z" fill="#467d1e" stroke="#467d1e" stroke-width="0.6"/>
<path d="M129.97 1238.26L136.87 1245.16L129.97 1252.06L123.07 1245.16Z" fill="#467d1e" stroke="#467d1e" stroke-width="0.6"/>
<path d="M136.02 1227.13L142.92 1234.03L136.02 1240.93L129.12 1234.03Z" fill="#467d1e" stroke="#467d1e" stroke-width="0.6"/>
<path d="M142.07 1216.27L148.97 1223.17L142.07 1230.07L135.17 1223.17Z" fill="#467d1e" stroke="#467d1e" stroke-width="0.6"/>
<path d="M148.12 1206.98L155.02 1213.88L148.12 1220.78L141.22 1213.88Z" fill="#467d1e" stroke="#467d1e" stroke-width="0.6"/>
<path d="M154.17 1197.14L161.07 1204.04L154.17 1210.94L147.27 1204.04Z" fill="#467d1e" stroke="#467d1e" stroke-width="0.6"/>
<path d="M160.22 1188.43L167.12 1195.33L160.22 1202.23L153.32 1195.33Z" fill="#467d1e" stroke="#467d1e" stroke-width="0.6"/>
<path d="M166.28 1179.66L173.18 1186.56L166.28 1193.46L159.38 1186.56Z" fill="#467d1e" stroke="#467d1e" stroke-width="0.6"/>
<path d="M172.33 1171.12L179.23 1178.02L172.33 1184.92L165.43 1178.02Z" fill="#467d1e" stroke="#467d1e" stroke-width="0.6"/>
<path d="M178.38 1161.86L185.28 1168.76L178.38 1175.66L171.48 1168.76Z" fill="#467d1e" stroke="#467d1e" stroke-width="0.6"/>
<path d="M184.43 1153.26L191.33 1160.16L184.43 1167.06L177.53 1160.16Z" fill="#467d1e" stroke="#467d1e" stroke-width="0.6"/>
<path d="M190.48 1145.71L197.38 1152.61L190.48 1159.51L183.58 1152.61Z" fill="#467d1e" stroke="#467d1e" stroke-width="0.6"/>
<path d="M196.53 1137.39L203.43 1144.29L196.53 1151.19L189.63 1144.29Z" fill="#467d1e" stroke="#467d1e" stroke-width="0.6"/>
<path d="M202.58 1129.42L209.48 1136.32L202.58 1143.22L195.68 1136.32Z" fill="#467d1e" stroke="#467d1e" stroke-width="0.6"/>
<path d="M208.63 1120.44L215.53 1127.34L208.63 1134.24L201.73 1127.34Z" fill="#467d1e" stroke="#467d1e" stroke-width="0.6"/>
<path d="M214.68 1112.97L221.58 1119.87L214.68 1126.77L207.78 1119.87Z" fill="#467d1e" stroke="#467d1e" stroke-width="0.6"/>
<path d="M220.74 1105.64L227.64 1112.54L220.74 1119.44L213.84 1112.54Z" fill="#467d1e" stroke="#467d1e" stroke-width="0.6"/>
<path d="M226.79 1098.93L233.69 1105.83L226.79 1112.73L219.89 1105.83Z" fill="#467d1e" stroke="#467d1e" stroke-width="0.6"/>
<path d="M232.84 1091.84L239.74 1098.74L232.84 1105.64L225.94 1098.74Z" fill="#467d1e" stroke="#467d1e" stroke-width="0.6"/>
<path d="M238.89 1084.93L245.79 1091.83L238.89 1098.73L231.99 1091.83Z" fill="#467d1e" stroke="#467d1e" stroke-width="0.6"/>
<path d="M244.94 1080.28L251.84 1087.18L244.94 1094.08L238.04 1087.18Z" fill="#467d1e" stroke="#467d1e" stroke-width="0.6"/>
<path d="M250.99 1073.63L257.89 1080.53L250.99 1087.43L244.09 1080.53Z" fill="#467d1e" stroke="#467d1e" stroke-width="0.6"/>
<path d="M257.04 1067.46L263.94 1074.36L257.04 1081.26L250.14 1074.36Z" fill="#467d1e" stroke="#467d1e" stroke-width="0.6"/>
<path d="M263.09 1062.53L269.99 1069.43L263.09 1076.33L256.19 1069.43Z" fill="#467d1e" stroke="#467d1e" stroke-width="0.6"/>
<path d="M269.14 1056.58L276.04 1063.48L269.14 1070.38L262.24 1063.48Z" fill="#467d1e" stroke="#467d1e" stroke-width="0.6"/>
<path d="M275.19 1053.24L282.09 1060.14L275.19 1067.04L268.29 1060.14Z" fill="#467d1e" stroke="#467d1e" stroke-width="0.6"/>
<path d="M281.25 1050.58L288.14 1057.48L281.25 1064.38L274.35 1057.48Z" fill="#467d1e" stroke="#467d1e" stroke-width="0.6"/>
<path d="M287.3 1047.68L294.2 1054.58L287.3 1061.48L280.4 1054.58Z" fill="#467d1e" stroke="#467d1e" stroke-width="0.6"/>
<path d="M293.35 1044.71L300.25 1051.61L293.35 1058.51L286.45 1051.61Z" fill="#467d1e" stroke="#467d1e" stroke-width="0.6"/>
<path d="M299.4 1043.04L306.3 1049.94L299.4 1056.84L292.5 1049.94Z" fill="#467d1e" stroke="#467d1e" stroke-width="0.6"/>
<path d="M305.45 1042.94L312.35 1049.84L305.45 1056.74L298.55 1049.84Z" fill="#467d1e" stroke="#467d1e" stroke-width="0.6"/>
<path d="M311.5 1037.34L318.4 1044.24L311.5 1051.14L304.6 1044.24Z" fill="#467d1e" stroke="#467d1e" stroke-width="0.6"/>
<path d="M331.67 1039.6L338.57 1046.5L331.67 1053.4L324.77 1046.5Z" fill="#467d1e" stroke="#467d1e" stroke-width="0.6"/>
<path d="M351.84 1043.5L358.74 1050.4L351.84 1057.3L344.94 1050.4Z" fill="#467d1e" stroke="#467d1e" stroke-width="0.6"/>
<path d="M372.01 1047.1L378.91 1054L372.01 1060.9L365.11 1054Z" fill="#467d1e" stroke="#467d1e" stroke-width="0.6"/>
<path d="M392.18 1058.2L399.08 1065.1L392.18 1072L385.28 1065.1Z" fill="#467d1e" stroke="#467d1e" stroke-width="0.6"/>
<path d="M412.35 1068L419.25 1074.9L412.35 1081.8L405.45 1074.9Z" fill="#467d1e" stroke="#467d1e" stroke-width="0.6"/>
<path d="M432.52 1091.6L439.42 1098.5L432.52 1105.4L425.62 1098.5Z" fill="#467d1e" stroke="#467d1e" stroke-width="0.6"/>
<path d="M452.69 1098L459.59 1104.9L452.69 1111.8L445.79 1104.9Z" fill="#467d1e" stroke="#467d1e" stroke-width="0.6"/>
<path d="M472.86 1118.7L479.76 1125.6L472.86 1132.5L465.96 1125.6Z" fill="#467d1e" stroke="#467d1e" stroke-width="0.6"/>
<path d="M493.03 1136.8L499.93 1143.7L493.03 1150.6L486.13 1143.7Z" fill="#467d1e" stroke="#467d1e" stroke-width="0.6"/>
<path d="M513.2 1144.6L520.1 1151.5L513.2 1158.4L506.3 1151.5Z" fill="#467d1e" stroke="#467d1e" stroke-width="0.6"/>
<path d="M533.37 1157.6L540.27 1164.5L533.37 1171.4L526.47 1164.5Z" fill="#467d1e" stroke="#467d1e" stroke-width="0.6"/>
<path d="M553.54 1167.7L560.44 1174.6L553.54 1181.5L546.64 1174.6Z" fill="#467d1e" stroke="#467d1e" stroke-width="0.6"/>
<path d="M573.71 1178.8L580.61 1185.7L573.71 1192.6L566.81 1185.7Z" fill="#467d1e" stroke="#467d1e" stroke-width="0.6"/>
<path d="M593.88 1191.3L600.78 1198.2L593.88 1205.1L586.98 1198.2Z" fill="#467d1e" stroke="#467d1e" stroke-width="0.6"/>
<path d="M614.05 1198L620.95 1204.9L614.05 1211.8L607.15 1204.9Z" fill="#467d1e" stroke="#467d1e" stroke-width="0.6"/>
<path d="M634.22 1209.4L641.12 1216.3L634.22 1223.2L627.32 1216.3Z" fill="#467d1e" stroke="#467d1e" stroke-width="0.6"/>
<path d="M654.39 1208L661.29 1214.9L654.39 1221.8L647.49 1214.9Z" fill="#467d1e" stroke="#467d1e" stroke-width="0.6"/>
<path d="M674.56 1219.2L681.46 1226.1L674.56 1233L667.66 1226.1Z" fill="#467d1e" stroke="#467d1e" stroke-width="0.6"/>
<path d="M694.73 1225.3L701.63 1232.2L694.73 1239.1L687.83 1232.2Z" fill="#467d1e" stroke="#467d1e" stroke-width="0.6"/>
<path d="M714.9 1229.5L721.8 1236.4L714.9 1243.3L708 1236.4Z" fill="#467d1e" stroke="#467d1e" stroke-width="0.6"/>
<path d="M735.07 1233.1L741.97 1240L735.07 1246.9L728.17 1240Z" fill="#467d1e" stroke="#467d1e" stroke-width="0.6"/>
<path d="M755.24 1235.9L762.14 1242.8L755.24 1249.7L748.34 1242.8Z" fill="#467d1e" stroke="#467d1e" stroke-width="0.6"/>
<path d="M775.41 1240.1L782.31 1247L775.41 1253.9L768.51 1247Z" fill="#467d1e" stroke="#467d1e" stroke-width="0.6"/>
<path d="M795.58 1241.5L802.48 1248.4L795.58 1255.3L788.68 1248.4Z" fill="#467d1e" stroke="#467d1e" stroke-width="0.6"/>
<path d="M815.75 1244.2L822.65 1251.1L815.75 1258L808.85 1251.1Z" fill="#467d1e" stroke="#467d1e" stroke-width="0.6"/>
<path d="M835.92 1246.2L842.82 1253.1L835.92 1260L829.02 1253.1Z" fill="#467d1e" stroke="#467d1e" stroke-width="0.6"/>
<path d="M856.09 1249.5L862.99 1256.4L856.09 1263.3L849.19 1256.4Z" fill="#467d1e" stroke="#467d1e" stroke-width="0.6"/>
<path d="M876.26 1250.4L883.16 1257.3L876.26 1264.2L869.36 1257.3Z" fill="#467d1e" stroke="#467d1e" stroke-width="0.6"/>
<path d="M896.43 1252.6L903.33 1259.5L896.43 1266.4L889.53 1259.5Z" fill="#467d1e" stroke="#467d1e" stroke-width="0.6"/>
<path d="M916.6 1253.2L923.5 1260.1L916.6 1267L909.7 1260.1Z" fill="#467d1e" stroke="#467d1e" stroke-width="0.6"/>
<polyline points="111.82,1268.4 112.28,1268.4 112.75,1268.4 113.21,1268.4 113.68,1268.4 114.14,1268.4 114.61,1268.35 115.08,1268.24 115.54,1268.09 116.01,1267.91 116.47,1267.68 116.94,1267.41 117.4,1267.09 117.87,1266.73 118.33,1266.3 118.8,1265.83 119.26,1265.31 119.73,1264.75 120.2,1264.13 120.66,1263.48 121.13,1262.78 121.59,1262.05 122.06,1261.27 122.52,1260.46 122.99,1259.62 123.45,1258.75 123.92,1257.85 124.38,1256.94 124.85,1256.02 125.32,1255.08 125.78,1254.13 126.25,1253.16 126.71,1252.19 127.18,1251.21 127.64,1250.22 128.11,1249.22 128.57,1248.21 129.04,1247.19 129.5,1246.16 129.97,1245.12 130.37,1244.22 131.95,1240.73 133.52,1237.43 135.1,1234.47 136.68,1231.81 138.25,1229.35 139.83,1226.98 141.4,1224.65 142.98,1222.32 144.55,1219.97 146.13,1217.61 147.71,1215.22 149.28,1212.82 150.86,1210.41 152.43,1207.99 154.01,1205.56 155.58,1203.14 157.16,1200.72 158.73,1198.3 160.31,1195.89 161.89,1193.5 163.46,1191.11 165.04,1188.73 166.61,1186.37 168.19,1184.02 169.76,1181.68 171.34,1179.35 172.91,1177.03 174.49,1174.73 176.07,1172.45 177.64,1170.17 179.22,1167.91 180.79,1165.67 182.37,1163.44 183.94,1161.22 185.52,1159.01 187.1,1156.82 188.67,1154.64 190.25,1152.47 191.82,1150.31 193.4,1148.16 194.97,1146.01 196.55,1143.88 198.12,1141.75 199.7,1139.63 201.28,1137.52 202.85,1135.43 204.43,1133.34 206,1131.27 207.58,1129.21 209.15,1127.17 210.73,1125.14 212.3,1123.13 213.88,1121.15 215.46,1119.18 217.03,1117.23 218.61,1115.3 220.18,1113.4 221.76,1111.51 223.33,1109.64 224.91,1107.8 226.49,1105.97 228.06,1104.17 229.64,1102.38 231.21,1100.62 232.79,1098.87 234.36,1097.15 235.94,1095.44 237.51,1093.76 239.09,1092.1 240.67,1090.46 242.24,1088.83 243.82,1087.23 245.39,1085.65 246.97,1084.08 248.54,1082.53 250.12,1081 251.69,1079.49 253.27,1078.01 254.85,1076.55 256.42,1075.12 258,1073.71 259.57,1072.34 261.15,1071 262.72,1069.69 264.3,1068.42 265.88,1067.18 267.45,1065.99 269.03,1064.83 270.6,1063.71 272.18,1062.63 273.75,1061.6 275.33,1060.6 276.9,1059.64 278.48,1058.72 280.06,1057.83 281.63,1056.97 283.21,1056.14 284.78,1055.35 286.36,1054.58 287.93,1053.84 289.51,1053.12 291.09,1052.43 292.66,1051.76 294.24,1051.12 295.81,1050.5 297.39,1049.9 298.96,1049.33 300.54,1048.78 302.11,1048.26 303.69,1047.76 305.27,1047.28 306.84,1046.84 308.42,1046.42 309.99,1046.03 311.57,1045.68 313.14,1045.38 314.72,1045.11 316.29,1044.89 317.87,1044.72 319.45,1044.58 321.02,1044.49 322.6,1044.45 324.17,1044.45 325.75,1044.49 327.32,1044.57 328.9,1044.69 330.48,1044.85 332.05,1045.05 333.63,1045.28 335.2,1045.55 336.78,1045.85 338.35,1046.19 339.93,1046.55 341.5,1046.94 343.08,1047.36 344.66,1047.8 346.23,1048.27 347.81,1048.76 349.38,1049.27 350.96,1049.8 352.53,1050.34 354.11,1050.91 355.68,1051.48 357.26,1052.08 358.84,1052.68 360.41,1053.3 361.99,1053.93 363.56,1054.58 365.14,1055.23 366.71,1055.9 368.29,1056.58 369.87,1057.27 371.44,1057.97 373.02,1058.68 374.59,1059.41 376.17,1060.15 377.74,1060.89 379.32,1061.65 380.89,1062.42 382.47,1063.2 384.05,1064 385.62,1064.8 387.2,1065.61 388.77,1066.44 390.35,1067.28 391.92,1068.13 393.5,1068.99 395.07,1069.87 396.65,1070.75 398.23,1071.65 399.8,1072.56 401.38,1073.48 402.95,1074.41 404.53,1075.35 406.1,1076.31 407.68,1077.27 409.26,1078.25 410.83,1079.24 412.41,1080.24 413.98,1081.25 415.56,1082.27 417.13,1083.3 418.71,1084.33 420.28,1085.38 421.86,1086.44 423.44,1087.51 425.01,1088.58 426.59,1089.66 428.16,1090.75 429.74,1091.85 431.31,1092.95 432.89,1094.05 434.47,1095.17 436.04,1096.28 437.62,1097.41 439.19,1098.53 440.77,1099.66 442.34,1100.8 443.92,1101.94 445.49,1103.08 447.07,1104.23 448.65,1105.38 450.22,1106.54 451.8,1107.7 453.37,1108.86 454.95,1110.02 456.52,1111.18 458.1,1112.35 459.67,1113.52 461.25,1114.69 462.83,1115.86 464.4,1117.03 465.98,1118.2 467.55,1119.37 469.13,1120.53 470.7,1121.7 472.28,1122.86 473.86,1124.02 475.43,1125.18 477.01,1126.34 478.58,1127.49 480.16,1128.64 481.73,1129.78 483.31,1130.92 484.88,1132.06 486.46,1133.19 488.04,1134.32 489.61,1135.44 491.19,1136.55 492.76,1137.66 494.34,1138.77 495.91,1139.86 497.49,1140.95 499.06,1142.04 500.64,1143.11 502.22,1144.19 503.79,1145.25 505.37,1146.31 506.94,1147.36 508.52,1148.41 510.09,1149.45 511.67,1150.48 513.25,1151.51 514.82,1152.53 516.4,1153.55 517.97,1154.56 519.55,1155.56 521.12,1156.56 522.7,1157.55 524.27,1158.54 525.85,1159.52 527.43,1160.49 529,1161.46 530.58,1162.42 532.15,1163.38 533.73,1164.33 535.3,1165.27 536.88,1166.21 538.45,1167.14 540.03,1168.07 541.61,1168.99 543.18,1169.91 544.76,1170.82 546.33,1171.72 547.91,1172.62 549.48,1173.51 551.06,1174.4 552.64,1175.28 554.21,1176.16 555.79,1177.03 557.36,1177.9 558.94,1178.76 560.51,1179.61 562.09,1180.46 563.66,1181.3 565.24,1182.14 566.82,1182.98 568.39,1183.8 569.97,1184.62 571.54,1185.44 573.12,1186.25 574.69,1187.05 576.27,1187.85 577.85,1188.64 579.42,1189.43 581,1190.21 582.57,1190.99 584.15,1191.75 585.72,1192.52 587.3,1193.27 588.87,1194.02 590.45,1194.76 592.03,1195.5 593.6,1196.23 595.18,1196.95 596.75,1197.67 598.33,1198.38 599.9,1199.08 601.48,1199.78 603.05,1200.47 604.63,1201.16 606.21,1201.83 607.78,1202.5 609.36,1203.17 610.93,1203.83 612.51,1204.48 614.08,1205.12 615.66,1205.76 617.24,1206.4 618.81,1207.02 620.39,1207.64 621.96,1208.26 623.54,1208.87 625.11,1209.47 626.69,1210.06 628.26,1210.65 629.84,1211.24 631.42,1211.81 632.99,1212.38 634.57,1212.95 636.14,1213.51 637.72,1214.06 639.29,1214.61 640.87,1215.15 642.44,1215.69 644.02,1216.22 645.6,1216.74 647.17,1217.27 648.75,1217.78 650.32,1218.3 651.9,1218.81 653.47,1219.31 655.05,1219.81 656.63,1220.31 658.2,1220.8 659.78,1221.3 661.35,1221.78 662.93,1222.27 664.5,1222.75 666.08,1223.22 667.65,1223.69 669.23,1224.16 670.81,1224.63 672.38,1225.09 673.96,1225.54 675.53,1225.99 677.11,1226.44 678.68,1226.88 680.26,1227.32 681.83,1227.76 683.41,1228.19 684.99,1228.62 686.56,1229.04 688.14,1229.45 689.71,1229.87 691.29,1230.28 692.86,1230.68 694.44,1231.08 696.02,1231.48 697.59,1231.87 699.17,1232.25 700.74,1232.63 702.32,1233.01 703.89,1233.38 705.47,1233.75 707.04,1234.12 708.62,1234.48 710.2,1234.83 711.77,1235.18 713.35,1235.53 714.92,1235.87 716.5,1236.21 718.07,1236.54 719.65,1236.88 721.23,1237.2 722.8,1237.52 724.38,1237.84 725.95,1238.16 727.53,1238.47 729.1,1238.77 730.68,1239.08 732.25,1239.38 733.83,1239.67 735.41,1239.97 736.98,1240.25 738.56,1240.54 740.13,1240.82 741.71,1241.1 743.28,1241.38 744.86,1241.65 746.43,1241.92 748.01,1242.19 749.59,1242.45 751.16,1242.71 752.74,1242.97 754.31,1243.22 755.89,1243.47 757.46,1243.72 759.04,1243.97 760.62,1244.21 762.19,1244.46 763.77,1244.69 765.34,1244.93 766.92,1245.16 768.49,1245.4 770.07,1245.62 771.64,1245.85 773.22,1246.07 774.8,1246.3 776.37,1246.52 777.95,1246.73 779.52,1246.95 781.1,1247.16 782.67,1247.37 784.25,1247.58 785.82,1247.79 787.4,1247.99 788.98,1248.19 790.55,1248.39 792.13,1248.59 793.7,1248.79 795.28,1248.99 796.85,1249.18 798.43,1249.37 800.01,1249.56 801.58,1249.75 803.16,1249.94 804.73,1250.13 806.31,1250.32 807.88,1250.5 809.46,1250.68 811.03,1250.87 812.61,1251.05 814.19,1251.23 815.76,1251.4 817.34,1251.58 818.91,1251.76 820.49,1251.93 822.06,1252.11 823.64,1252.28 825.21,1252.45 826.79,1252.62 828.37,1252.79 829.94,1252.96 831.52,1253.13 833.09,1253.29 834.67,1253.46 836.24,1253.62 837.82,1253.79 839.4,1253.95 840.97,1254.11 842.55,1254.27 844.12,1254.43 845.7,1254.59 847.27,1254.75 848.85,1254.9 850.42,1255.06 852,1255.21 853.58,1255.37 855.15,1255.52 856.73,1255.67 858.3,1255.82 859.88,1255.97 861.45,1256.12 863.03,1256.26 864.61,1256.41 866.18,1256.55 867.76,1256.7 869.33,1256.84 870.91,1256.98 872.48,1257.12 874.06,1257.26 875.63,1257.4 877.21,1257.54 878.79,1257.68 880.36,1257.81 881.94,1257.95 883.51,1258.09 885.09,1258.22 886.66,1258.36 888.24,1258.49 889.81,1258.62 891.39,1258.75 892.97,1258.89 894.54,1259.02 896.12,1259.15 897.69,1259.28 899.27,1259.41 900.84,1259.54 902.42,1259.67 904,1259.8 905.57,1259.92 907.15,1260.05 908.72,1260.18 910.3,1260.31 911.87,1260.44 913.45,1260.56 915.02,1260.69 916.6,1260.82" fill="none" stroke="#467d1e" stroke-width="1.2"/>
<path d="M109.8 1261.5L116.7 1268.4L109.8 1275.3L102.9 1268.4Z" fill="#e10005" stroke="#e10005" stroke-width="0.6"/>
<path d="M111.82 1261.5L118.72 1268.4L111.82 1275.3L104.92 1268.4Z" fill="#e10005" stroke="#e10005" stroke-width="0.6"/>
<path d="M113.83 1261.5L120.73 1268.4L113.83 1275.3L106.93 1268.4Z" fill="#e10005" stroke="#e10005" stroke-width="0.6"/>
<path d="M115.85 1261.5L122.75 1268.4L115.85 1275.3L108.95 1268.4Z" fill="#e10005" stroke="#e10005" stroke-width="0.6"/>
<path d="M117.87 1261.09L124.77 1267.99L117.87 1274.89L110.97 1267.99Z" fill="#e10005" stroke="#e10005" stroke-width="0.6"/>
<path d="M119.88 1260.03L126.78 1266.93L119.88 1273.83L112.98 1266.93Z" fill="#e10005" stroke="#e10005" stroke-width="0.6"/>
<path d="M121.9 1257L128.8 1263.9L121.9 1270.8L115 1263.9Z" fill="#e10005" stroke="#e10005" stroke-width="0.6"/>
<path d="M123.92 1255.11L130.82 1262.01L123.92 1268.91L117.02 1262.01Z" fill="#e10005" stroke="#e10005" stroke-width="0.6"/>
<path d="M125.94 1250.72L132.84 1257.62L125.94 1264.52L119.04 1257.62Z" fill="#e10005" stroke="#e10005" stroke-width="0.6"/>
<path d="M127.95 1248.27L134.85 1255.17L127.95 1262.07L121.05 1255.17Z" fill="#e10005" stroke="#e10005" stroke-width="0.6"/>
<path d="M129.97 1241.72L136.87 1248.62L129.97 1255.52L123.07 1248.62Z" fill="#e10005" stroke="#e10005" stroke-width="0.6"/>
<path d="M136.02 1228.14L142.92 1235.04L136.02 1241.94L129.12 1235.04Z" fill="#e10005" stroke="#e10005" stroke-width="0.6"/>
<path d="M142.07 1216.6L148.97 1223.5L142.07 1230.4L135.17 1223.5Z" fill="#e10005" stroke="#e10005" stroke-width="0.6"/>
<path d="M148.12 1206.66L155.02 1213.56L148.12 1220.46L141.22 1213.56Z" fill="#e10005" stroke="#e10005" stroke-width="0.6"/>
<path d="M154.17 1196.59L161.07 1203.49L154.17 1210.39L147.27 1203.49Z" fill="#e10005" stroke="#e10005" stroke-width="0.6"/>
<path d="M160.22 1187.74L167.12 1194.64L160.22 1201.54L153.32 1194.64Z" fill="#e10005" stroke="#e10005" stroke-width="0.6"/>
<path d="M166.28 1178.89L173.18 1185.79L166.28 1192.69L159.38 1185.79Z" fill="#e10005" stroke="#e10005" stroke-width="0.6"/>
<path d="M172.33 1170.04L179.23 1176.94L172.33 1183.84L165.43 1176.94Z" fill="#e10005" stroke="#e10005" stroke-width="0.6"/>
<path d="M178.38 1161.19L185.28 1168.09L178.38 1174.99L171.48 1168.09Z" fill="#e10005" stroke="#e10005" stroke-width="0.6"/>
<path d="M184.43 1152.33L191.33 1159.23L184.43 1166.13L177.53 1159.23Z" fill="#e10005" stroke="#e10005" stroke-width="0.6"/>
<path d="M190.48 1143.15L197.38 1150.05L190.48 1156.95L183.58 1150.05Z" fill="#e10005" stroke="#e10005" stroke-width="0.6"/>
<path d="M196.53 1134.27L203.43 1141.17L196.53 1148.07L189.63 1141.17Z" fill="#e10005" stroke="#e10005" stroke-width="0.6"/>
<path d="M202.58 1124.71L209.48 1131.61L202.58 1138.51L195.68 1131.61Z" fill="#e10005" stroke="#e10005" stroke-width="0.6"/>
<path d="M208.63 1115.91L215.53 1122.81L208.63 1129.71L201.73 1122.81Z" fill="#e10005" stroke="#e10005" stroke-width="0.6"/>
<path d="M214.68 1106.78L221.58 1113.68L214.68 1120.58L207.78 1113.68Z" fill="#e10005" stroke="#e10005" stroke-width="0.6"/>
<path d="M220.74 1098.08L227.64 1104.98L220.74 1111.88L213.84 1104.98Z" fill="#e10005" stroke="#e10005" stroke-width="0.6"/>
<path d="M226.79 1089.17L233.69 1096.07L226.79 1102.97L219.89 1096.07Z" fill="#e10005" stroke="#e10005" stroke-width="0.6"/>
<path d="M232.84 1081.37L239.74 1088.27L232.84 1095.17L225.94 1088.27Z" fill="#e10005" stroke="#e10005" stroke-width="0.6"/>
<path d="M238.89 1071.71L245.79 1078.61L238.89 1085.51L231.99 1078.61Z" fill="#e10005" stroke="#e10005" stroke-width="0.6"/>
<path d="M244.94 1063.71L251.84 1070.61L244.94 1077.51L238.04 1070.61Z" fill="#e10005" stroke="#e10005" stroke-width="0.6"/>
<path d="M250.99 1055.2L257.89 1062.1L250.99 1069L244.09 1062.1Z" fill="#e10005" stroke="#e10005" stroke-width="0.6"/>
<path d="M257.04 1046.91L263.94 1053.81L257.04 1060.71L250.14 1053.81Z" fill="#e10005" stroke="#e10005" stroke-width="0.6"/>
<path d="M263.09 1039.29L269.99 1046.19L263.09 1053.09L256.19 1046.19Z" fill="#e10005" stroke="#e10005" stroke-width="0.6"/>
<path d="M269.14 1031.84L276.04 1038.74L269.14 1045.64L262.24 1038.74Z" fill="#e10005" stroke="#e10005" stroke-width="0.6"/>
<path d="M275.19 1021.2L282.09 1028.1L275.19 1035L268.29 1028.1Z" fill="#e10005" stroke="#e10005" stroke-width="0.6"/>
<path d="M281.25 1014.39L288.14 1021.29L281.25 1028.19L274.35 1021.29Z" fill="#e10005" stroke="#e10005" stroke-width="0.6"/>
<path d="M287.3 1009.85L294.2 1016.75L287.3 1023.65L280.4 1016.75Z" fill="#e10005" stroke="#e10005" stroke-width="0.6"/>
<path d="M293.35 999.76L300.25 1006.66L293.35 1013.56L286.45 1006.66Z" fill="#e10005" stroke="#e10005" stroke-width="0.6"/>
<path d="M299.4 993.32L306.3 1000.22L299.4 1007.12L292.5 1000.22Z" fill="#e10005" stroke="#e10005" stroke-width="0.6"/>
<path d="M305.45 987.02L312.35 993.92L305.45 1000.82L298.55 993.92Z" fill="#e10005" stroke="#e10005" stroke-width="0.6"/>
<path d="M311.5 979.7L318.4 986.6L311.5 993.5L304.6 986.6Z" fill="#e10005" stroke="#e10005" stroke-width="0.6"/>
<path d="M331.67 959.9L338.57 966.8L331.67 973.7L324.77 966.8Z" fill="#e10005" stroke="#e10005" stroke-width="0.6"/>
<path d="M351.84 942.1L358.74 949L351.84 955.9L344.94 949Z" fill="#e10005" stroke="#e10005" stroke-width="0.6"/>
<path d="M372.01 931.5L378.91 938.4L372.01 945.3L365.11 938.4Z" fill="#e10005" stroke="#e10005" stroke-width="0.6"/>
<path d="M392.18 922.6L399.08 929.5L392.18 936.4L385.28 929.5Z" fill="#e10005" stroke="#e10005" stroke-width="0.6"/>
<path d="M412.35 919.8L419.25 926.7L412.35 933.6L405.45 926.7Z" fill="#e10005" stroke="#e10005" stroke-width="0.6"/>
<path d="M432.52 926.8L439.42 933.7L432.52 940.6L425.62 933.7Z" fill="#e10005" stroke="#e10005" stroke-width="0.6"/>
<path d="M452.69 921.8L459.59 928.7L452.69 935.6L445.79 928.7Z" fill="#e10005" stroke="#e10005" stroke-width="0.6"/>
<path d="M472.86 927.3L479.76 934.2L472.86 941.1L465.96 934.2Z" fill="#e10005" stroke="#e10005" stroke-width="0.6"/>
<path d="M493.03 935.1L499.93 942L493.03 948.9L486.13 942Z" fill="#e10005" stroke="#e10005" stroke-width="0.6"/>
<path d="M513.2 951L520.1 957.9L513.2 964.8L506.3 957.9Z" fill="#e10005" stroke="#e10005" stroke-width="0.6"/>
<path d="M533.37 971.9L540.27 978.8L533.37 985.7L526.47 978.8Z" fill="#e10005" stroke="#e10005" stroke-width="0.6"/>
<path d="M553.54 981.6L560.44 988.5L553.54 995.4L546.64 988.5Z" fill="#e10005" stroke="#e10005" stroke-width="0.6"/>
<path d="M573.71 998.4L580.61 1005.3L573.71 1012.2L566.81 1005.3Z" fill="#e10005" stroke="#e10005" stroke-width="0.6"/>
<path d="M593.88 1014.5L600.78 1021.4L593.88 1028.3L586.98 1021.4Z" fill="#e10005" stroke="#e10005" stroke-width="0.6"/>
<path d="M614.05 1029L620.95 1035.9L614.05 1042.8L607.15 1035.9Z" fill="#e10005" stroke="#e10005" stroke-width="0.6"/>
<path d="M634.22 1052.1L641.12 1059L634.22 1065.9L627.32 1059Z" fill="#e10005" stroke="#e10005" stroke-width="0.6"/>
<path d="M654.39 1063.8L661.29 1070.7L654.39 1077.6L647.49 1070.7Z" fill="#e10005" stroke="#e10005" stroke-width="0.6"/>
<path d="M674.56 1072.1L681.46 1079L674.56 1085.9L667.66 1079Z" fill="#e10005" stroke="#e10005" stroke-width="0.6"/>
<path d="M694.73 1087.5L701.63 1094.4L694.73 1101.3L687.83 1094.4Z" fill="#e10005" stroke="#e10005" stroke-width="0.6"/>
<path d="M714.9 1100.6L721.8 1107.5L714.9 1114.4L708 1107.5Z" fill="#e10005" stroke="#e10005" stroke-width="0.6"/>
<path d="M735.07 1131.5L741.97 1138.4L735.07 1145.3L728.17 1138.4Z" fill="#e10005" stroke="#e10005" stroke-width="0.6"/>
<path d="M755.24 1132L762.14 1138.9L755.24 1145.8L748.34 1138.9Z" fill="#e10005" stroke="#e10005" stroke-width="0.6"/>
<path d="M775.41 1142.3L782.31 1149.2L775.41 1156.1L768.51 1149.2Z" fill="#e10005" stroke="#e10005" stroke-width="0.6"/>
<path d="M795.58 1150.7L802.48 1157.6L795.58 1164.5L788.68 1157.6Z" fill="#e10005" stroke="#e10005" stroke-width="0.6"/>
<path d="M815.75 1169.1L822.65 1176L815.75 1182.9L808.85 1176Z" fill="#e10005" stroke="#e10005" stroke-width="0.6"/>
<path d="M835.92 1180.2L842.82 1187.1L835.92 1194L829.02 1187.1Z" fill="#e10005" stroke="#e10005" stroke-width="0.6"/>
<path d="M856.09 1184.4L862.99 1191.3L856.09 1198.2L849.19 1191.3Z" fill="#e10005" stroke="#e10005" stroke-width="0.6"/>
<path d="M876.26 1190.5L883.16 1197.4L876.26 1204.3L869.36 1197.4Z" fill="#e10005" stroke="#e10005" stroke-width="0.6"/>
<path d="M896.43 1197.5L903.33 1204.4L896.43 1211.3L889.53 1204.4Z" fill="#e10005" stroke="#e10005" stroke-width="0.6"/>
<path d="M916.6 1200.2L923.5 1207.1L916.6 1214L909.7 1207.1Z" fill="#e10005" stroke="#e10005" stroke-width="0.6"/>
<polyline points="111.82,1268.4 112.28,1268.4 112.75,1268.4 113.21,1268.4 113.68,1268.4 114.14,1268.4 114.61,1268.4 115.08,1268.4 115.54,1268.4 116.01,1268.38 116.47,1268.29 116.94,1268.17 117.4,1268.02 117.87,1267.83 118.33,1267.6 118.8,1267.33 119.26,1267.02 119.73,1266.66 120.2,1266.26 120.66,1265.81 121.13,1265.33 121.59,1264.81 122.06,1264.27 122.52,1263.69 122.99,1263.08 123.45,1262.44 123.92,1261.75 124.38,1261.03 124.85,1260.27 125.32,1259.47 125.78,1258.62 126.25,1257.75 126.71,1256.83 127.18,1255.86 127.64,1254.83 128.11,1253.75 128.57,1252.61 129.04,1251.43 129.5,1250.2 129.97,1248.95 130.37,1247.85 131.95,1243.59 133.52,1239.61 135.1,1236.11 136.68,1233.05 138.25,1230.28 139.83,1227.66 141.4,1225.1 142.98,1222.58 144.55,1220.06 146.13,1217.55 147.71,1215.03 149.28,1212.52 150.86,1210.01 152.43,1207.51 154.01,1205.01 155.58,1202.53 157.16,1200.06 158.73,1197.6 160.31,1195.16 161.89,1192.73 163.46,1190.31 165.04,1187.9 166.61,1185.51 168.19,1183.13 169.76,1180.75 171.34,1178.39 172.91,1176.03 174.49,1173.67 176.07,1171.33 177.64,1168.98 179.22,1166.64 180.79,1164.29 182.37,1161.95 183.94,1159.61 185.52,1157.27 187.1,1154.92 188.67,1152.58 190.25,1150.23 191.82,1147.88 193.4,1145.53 194.97,1143.18 196.55,1140.82 198.12,1138.47 199.7,1136.12 201.28,1133.76 202.85,1131.41 204.43,1129.07 206,1126.72 207.58,1124.38 209.15,1122.04 210.73,1119.71 212.3,1117.38 213.88,1115.06 215.46,1112.75 217.03,1110.44 218.61,1108.13 220.18,1105.84 221.76,1103.55 223.33,1101.26 224.91,1098.99 226.49,1096.71 228.06,1094.45 229.64,1092.19 231.21,1089.94 232.79,1087.69 234.36,1085.44 235.94,1083.21 237.51,1080.97 239.09,1078.75 240.67,1076.53 242.24,1074.32 243.82,1072.12 245.39,1069.92 246.97,1067.74 248.54,1065.56 250.12,1063.39 251.69,1061.22 253.27,1059.07 254.85,1056.92 256.42,1054.79 258,1052.66 259.57,1050.53 261.15,1048.42 262.72,1046.32 264.3,1044.22 265.88,1042.13 267.45,1040.04 269.03,1037.97 270.6,1035.91 272.18,1033.85 273.75,1031.81 275.33,1029.79 276.9,1027.78 278.48,1025.8 280.06,1023.82 281.63,1021.86 283.21,1019.92 284.78,1017.98 286.36,1016.06 287.93,1014.13 289.51,1012.21 291.09,1010.3 292.66,1008.38 294.24,1006.48 295.81,1004.58 297.39,1002.68 298.96,1000.79 300.54,998.9 302.11,997.01 303.69,995.13 305.27,993.25 306.84,991.38 308.42,989.51 309.99,987.64 311.57,985.79 313.14,983.94 314.72,982.11 316.29,980.29 317.87,978.49 319.45,976.71 321.02,974.95 322.6,973.21 324.17,971.51 325.75,969.83 327.32,968.18 328.9,966.57 330.48,964.99 332.05,963.45 333.63,961.94 335.2,960.47 336.78,959.05 338.35,957.67 339.93,956.33 341.5,955.04 343.08,953.79 344.66,952.59 346.23,951.43 347.81,950.32 349.38,949.25 350.96,948.22 352.53,947.23 354.11,946.29 355.68,945.38 357.26,944.5 358.84,943.66 360.41,942.86 361.99,942.09 363.56,941.35 365.14,940.64 366.71,939.96 368.29,939.31 369.87,938.68 371.44,938.08 373.02,937.5 374.59,936.94 376.17,936.41 377.74,935.9 379.32,935.41 380.89,934.94 382.47,934.49 384.05,934.06 385.62,933.65 387.2,933.26 388.77,932.88 390.35,932.53 391.92,932.19 393.5,931.87 395.07,931.57 396.65,931.28 398.23,931.02 399.8,930.77 401.38,930.53 402.95,930.32 404.53,930.12 406.1,929.94 407.68,929.77 409.26,929.62 410.83,929.49 412.41,929.38 413.98,929.28 415.56,929.2 417.13,929.13 418.71,929.09 420.28,929.06 421.86,929.04 423.44,929.04 425.01,929.06 426.59,929.1 428.16,929.15 429.74,929.22 431.31,929.3 432.89,929.4 434.47,929.52 436.04,929.65 437.62,929.8 439.19,929.97 440.77,930.15 442.34,930.36 443.92,930.58 445.49,930.82 447.07,931.07 448.65,931.35 450.22,931.64 451.8,931.96 453.37,932.29 454.95,932.64 456.52,933.01 458.1,933.4 459.67,933.81 461.25,934.24 462.83,934.69 464.4,935.16 465.98,935.65 467.55,936.16 469.13,936.69 470.7,937.24 472.28,937.81 473.86,938.4 475.43,939.01 477.01,939.64 478.58,940.29 480.16,940.96 481.73,941.64 483.31,942.35 484.88,943.08 486.46,943.82 488.04,944.59 489.61,945.37 491.19,946.18 492.76,947 494.34,947.84 495.91,948.69 497.49,949.57 499.06,950.46 500.64,951.37 502.22,952.29 503.79,953.23 505.37,954.19 506.94,955.16 508.52,956.15 510.09,957.15 511.67,958.16 513.25,959.19 514.82,960.23 516.4,961.28 517.97,962.34 519.55,963.42 521.12,964.51 522.7,965.6 524.27,966.71 525.85,967.83 527.43,968.95 529,970.09 530.58,971.23 532.15,972.38 533.73,973.54 535.3,974.7 536.88,975.87 538.45,977.05 540.03,978.23 541.61,979.42 543.18,980.61 544.76,981.81 546.33,983.02 547.91,984.23 549.48,985.44 551.06,986.66 552.64,987.89 554.21,989.12 555.79,990.35 557.36,991.59 558.94,992.83 560.51,994.07 562.09,995.32 563.66,996.57 565.24,997.83 566.82,999.08 568.39,1000.34 569.97,1001.61 571.54,1002.87 573.12,1004.14 574.69,1005.4 576.27,1006.67 577.85,1007.94 579.42,1009.22 581,1010.49 582.57,1011.77 584.15,1013.04 585.72,1014.32 587.3,1015.59 588.87,1016.87 590.45,1018.15 592.03,1019.43 593.6,1020.7 595.18,1021.98 596.75,1023.26 598.33,1024.53 599.9,1025.81 601.48,1027.09 603.05,1028.36 604.63,1029.63 606.21,1030.9 607.78,1032.17 609.36,1033.44 610.93,1034.71 612.51,1035.98 614.08,1037.24 615.66,1038.5 617.24,1039.76 618.81,1041.02 620.39,1042.27 621.96,1043.52 623.54,1044.77 625.11,1046.02 626.69,1047.26 628.26,1048.5 629.84,1049.73 631.42,1050.96 632.99,1052.19 634.57,1053.41 636.14,1054.63 637.72,1055.84 639.29,1057.05 640.87,1058.25 642.44,1059.45 644.02,1060.65 645.6,1061.84 647.17,1063.03 648.75,1064.22 650.32,1065.4 651.9,1066.57 653.47,1067.75 655.05,1068.92 656.63,1070.09 658.2,1071.25 659.78,1072.41 661.35,1073.57 662.93,1074.73 664.5,1075.89 666.08,1077.04 667.65,1078.19 669.23,1079.34 670.81,1080.5 672.38,1081.64 673.96,1082.79 675.53,1083.94 677.11,1085.09 678.68,1086.24 680.26,1087.39 681.83,1088.53 683.41,1089.68 684.99,1090.83 686.56,1091.98 688.14,1093.12 689.71,1094.27 691.29,1095.42 692.86,1096.56 694.44,1097.71 696.02,1098.85 697.59,1100 699.17,1101.15 700.74,1102.29 702.32,1103.43 703.89,1104.58 705.47,1105.72 707.04,1106.86 708.62,1107.99 710.2,1109.13 711.77,1110.27 713.35,1111.4 714.92,1112.53 716.5,1113.65 718.07,1114.78 719.65,1115.9 721.23,1117.02 722.8,1118.13 724.38,1119.24 725.95,1120.34 727.53,1121.44 729.1,1122.53 730.68,1123.61 732.25,1124.69 733.83,1125.76 735.41,1126.82 736.98,1127.87 738.56,1128.92 740.13,1129.96 741.71,1130.98 743.28,1132.01 744.86,1133.02 746.43,1134.03 748.01,1135.03 749.59,1136.02 751.16,1137.01 752.74,1137.99 754.31,1138.96 755.89,1139.93 757.46,1140.89 759.04,1141.85 760.62,1142.8 762.19,1143.74 763.77,1144.68 765.34,1145.62 766.92,1146.55 768.49,1147.47 770.07,1148.39 771.64,1149.3 773.22,1150.22 774.8,1151.12 776.37,1152.02 777.95,1152.92 779.52,1153.81 781.1,1154.7 782.67,1155.59 784.25,1156.47 785.82,1157.35 787.4,1158.22 788.98,1159.09 790.55,1159.95 792.13,1160.82 793.7,1161.67 795.28,1162.53 796.85,1163.38 798.43,1164.22 800.01,1165.06 801.58,1165.9 803.16,1166.73 804.73,1167.56 806.31,1168.38 807.88,1169.2 809.46,1170.01 811.03,1170.81 812.61,1171.61 814.19,1172.4 815.76,1173.19 817.34,1173.97 818.91,1174.74 820.49,1175.5 822.06,1176.26 823.64,1177.01 825.21,1177.75 826.79,1178.48 828.37,1179.21 829.94,1179.93 831.52,1180.64 833.09,1181.34 834.67,1182.03 836.24,1182.72 837.82,1183.4 839.4,1184.07 840.97,1184.73 842.55,1185.38 844.12,1186.03 845.7,1186.67 847.27,1187.3 848.85,1187.92 850.42,1188.54 852,1189.15 853.58,1189.75 855.15,1190.35 856.73,1190.94 858.3,1191.52 859.88,1192.1 861.45,1192.67 863.03,1193.24 864.61,1193.8 866.18,1194.35 867.76,1194.9 869.33,1195.45 870.91,1195.99 872.48,1196.52 874.06,1197.05 875.63,1197.58 877.21,1198.1 878.79,1198.62 880.36,1199.13 881.94,1199.64 883.51,1200.15 885.09,1200.65 886.66,1201.15 888.24,1201.65 889.81,1202.14 891.39,1202.63 892.97,1203.12 894.54,1203.6 896.12,1204.09 897.69,1204.57 899.27,1205.05 900.84,1205.52 902.42,1206 904,1206.47 905.57,1206.95 907.15,1207.42 908.72,1207.89 910.3,1208.36 911.87,1208.83 913.45,1209.3 915.02,1209.76 916.6,1210.23" fill="none" stroke="#e10005" stroke-width="1.2"/>
</g>
<text x="9" y="25.9" class="pl">A</text>
<text x="10.5" y="467" class="pl">B</text>
<text x="9.6" y="914.3" class="pl">C</text>
<rect x="109.5" y="14.4" width="807" height="360.3" fill="none" stroke="#000" stroke-width="2.6"/>
<path d="M190.2 374.7V366.7M270.9 374.7V359.7M351.6 374.7V366.7M432.3 374.7V359.7M513 374.7V366.7M593.7 374.7V359.7M674.4 374.7V366.7M755.1 374.7V359.7M835.8 374.7V366.7M109.5 314.65H117.5M109.5 254.6H124.5M109.5 194.55H117.5M109.5 134.5H124.5M109.5 74.45H117.5" stroke="#000" stroke-width="2.5" fill="none"/>
<text transform="translate(109.5,416.2) scale(0.97,1.1)" text-anchor="middle" class="t">0</text>
<text transform="translate(270.9,416.2) scale(0.97,1.1)" text-anchor="middle" class="t">100</text>
<text transform="translate(432.3,416.2) scale(0.97,1.1)" text-anchor="middle" class="t">200</text>
<text transform="translate(593.7,416.2) scale(0.97,1.1)" text-anchor="middle" class="t">300</text>
<text transform="translate(755.1,416.2) scale(0.97,1.1)" text-anchor="middle" class="t">400</text>
<text transform="translate(916.5,416.2) scale(0.97,1.1)" text-anchor="middle" class="t">500</text>
<text transform="translate(88.2,382.7) scale(0.97,1.1)" text-anchor="end" class="t">0.00</text>
<text transform="translate(88.2,262.6) scale(0.97,1.1)" text-anchor="end" class="t">0.01</text>
<text transform="translate(88.2,142.5) scale(0.97,1.1)" text-anchor="end" class="t">0.02</text>
<text transform="translate(88.2,22.4) scale(0.97,1.1)" text-anchor="end" class="t">0.03</text>
<text transform="translate(799.2,431.3) scale(1.06,1)" class="ax">P</text>
<rect x="109.5" y="461.0" width="807" height="360.5" fill="none" stroke="#000" stroke-width="2.6"/>
<path d="M190.2 821.5V813.5M270.9 821.5V806.5M351.6 821.5V813.5M432.3 821.5V806.5M513 821.5V813.5M593.7 821.5V806.5M674.4 821.5V813.5M755.1 821.5V806.5M835.8 821.5V813.5M109.5 785.45H117.5M109.5 749.4H124.5M109.5 713.35H117.5M109.5 677.3H124.5M109.5 641.25H117.5M109.5 605.2H124.5M109.5 569.15H117.5M109.5 533.1H124.5M109.5 497.05H117.5" stroke="#000" stroke-width="2.5" fill="none"/>
<text transform="translate(109.5,863) scale(0.97,1.1)" text-anchor="middle" class="t">0</text>
<text transform="translate(270.9,863) scale(0.97,1.1)" text-anchor="middle" class="t">100</text>
<text transform="translate(432.3,863) scale(0.97,1.1)" text-anchor="middle" class="t">200</text>
<text transform="translate(593.7,863) scale(0.97,1.1)" text-anchor="middle" class="t">300</text>
<text transform="translate(755.1,863) scale(0.97,1.1)" text-anchor="middle" class="t">400</text>
<text transform="translate(916.5,863) scale(0.97,1.1)" text-anchor="middle" class="t">500</text>
<text transform="translate(88.2,829.5) scale(0.97,1.1)" text-anchor="end" class="t">0.0</text>
<text transform="translate(88.2,757.4) scale(0.97,1.1)" text-anchor="end" class="t">0.2</text>
<text transform="translate(88.2,685.3) scale(0.97,1.1)" text-anchor="end" class="t">0.4</text>
<text transform="translate(88.2,613.2) scale(0.97,1.1)" text-anchor="end" class="t">0.6</text>
<text transform="translate(88.2,541.1) scale(0.97,1.1)" text-anchor="end" class="t">0.8</text>
<text transform="translate(88.2,469) scale(0.97,1.1)" text-anchor="end" class="t">1.0</text>
<text transform="translate(799.2,878.1) scale(1.06,1)" class="ax">P</text>
<rect x="109.5" y="908.05" width="807" height="360.35" fill="none" stroke="#000" stroke-width="2.6"/>
<path d="M210.38 1268.4V1260.4M311.25 1268.4V1253.4M412.12 1268.4V1260.4M513 1268.4V1253.4M613.88 1268.4V1260.4M714.75 1268.4V1253.4M815.62 1268.4V1260.4M109.5 1238.37H117.5M109.5 1208.34H124.5M109.5 1178.31H117.5M109.5 1148.28H124.5M109.5 1118.25H117.5M109.5 1088.22H124.5M109.5 1058.2H117.5M109.5 1028.17H124.5M109.5 998.14H117.5M109.5 968.11H124.5M109.5 938.08H117.5" stroke="#000" stroke-width="2.5" fill="none"/>
<text transform="translate(109.5,1309.6) scale(0.97,1.1)" text-anchor="middle" class="t">0</text>
<text transform="translate(311.25,1309.6) scale(0.97,1.1)" text-anchor="middle" class="t">500</text>
<text transform="translate(513,1309.6) scale(0.97,1.1)" text-anchor="middle" class="t">1000</text>
<text transform="translate(714.75,1309.6) scale(0.97,1.1)" text-anchor="middle" class="t">1500</text>
<text transform="translate(916.5,1309.6) scale(0.97,1.1)" text-anchor="middle" class="t">2000</text>
<text transform="translate(88.2,1277.4) scale(0.97,1.1)" text-anchor="end" class="t">0</text>
<text transform="translate(88.2,1217.34) scale(0.97,1.1)" text-anchor="end" class="t">100</text>
<text transform="translate(88.2,1157.28) scale(0.97,1.1)" text-anchor="end" class="t">200</text>
<text transform="translate(88.2,1097.22) scale(0.97,1.1)" text-anchor="end" class="t">300</text>
<text transform="translate(88.2,1037.17) scale(0.97,1.1)" text-anchor="end" class="t">400</text>
<text transform="translate(88.2,977.11) scale(0.97,1.1)" text-anchor="end" class="t">500</text>
<text transform="translate(88.2,917.05) scale(0.97,1.1)" text-anchor="end" class="t">600</text>
<text transform="translate(799.2,1323.8) scale(1.06,1)" class="ax">P</text>
<text transform="translate(37.8,206.8) rotate(-90) scale(1.08,1)" class="ax">P</text>
<text transform="translate(50.2,187) rotate(-90)" class="sub">B</text>
<text transform="translate(28.3,679.9) rotate(-90) scale(1.08,1)" class="ax">P</text>
<text transform="translate(40.4,659.3) rotate(-90) scale(0.95,0.95)" class="sub">V</text>
<text transform="translate(30.0,1129.5) rotate(-90)" class="ax">N</text>
<text transform="translate(41.6,1103.2) rotate(-90)" class="sub">V</text>
<circle cx="811.9" cy="37.9" r="6.6" fill="#000000"/>
<text transform="translate(842.8,45.5) scale(1,1.05)" class="lg">N=50</text>
<circle cx="811.9" cy="68.55" r="6.6" fill="#0000ff"/>
<text transform="translate(842.8,76.15) scale(1,1.05)" class="lg">N=100</text>
<circle cx="811.9" cy="99.2" r="6.6" fill="#467d1e"/>
<text transform="translate(842.8,106.8) scale(1,1.05)" class="lg">N=150</text>
<circle cx="811.9" cy="129.85" r="6.6" fill="#e10005"/>
<text transform="translate(842.8,137.45) scale(1,1.05)" class="lg">N=200</text>
</svg></body></html>
